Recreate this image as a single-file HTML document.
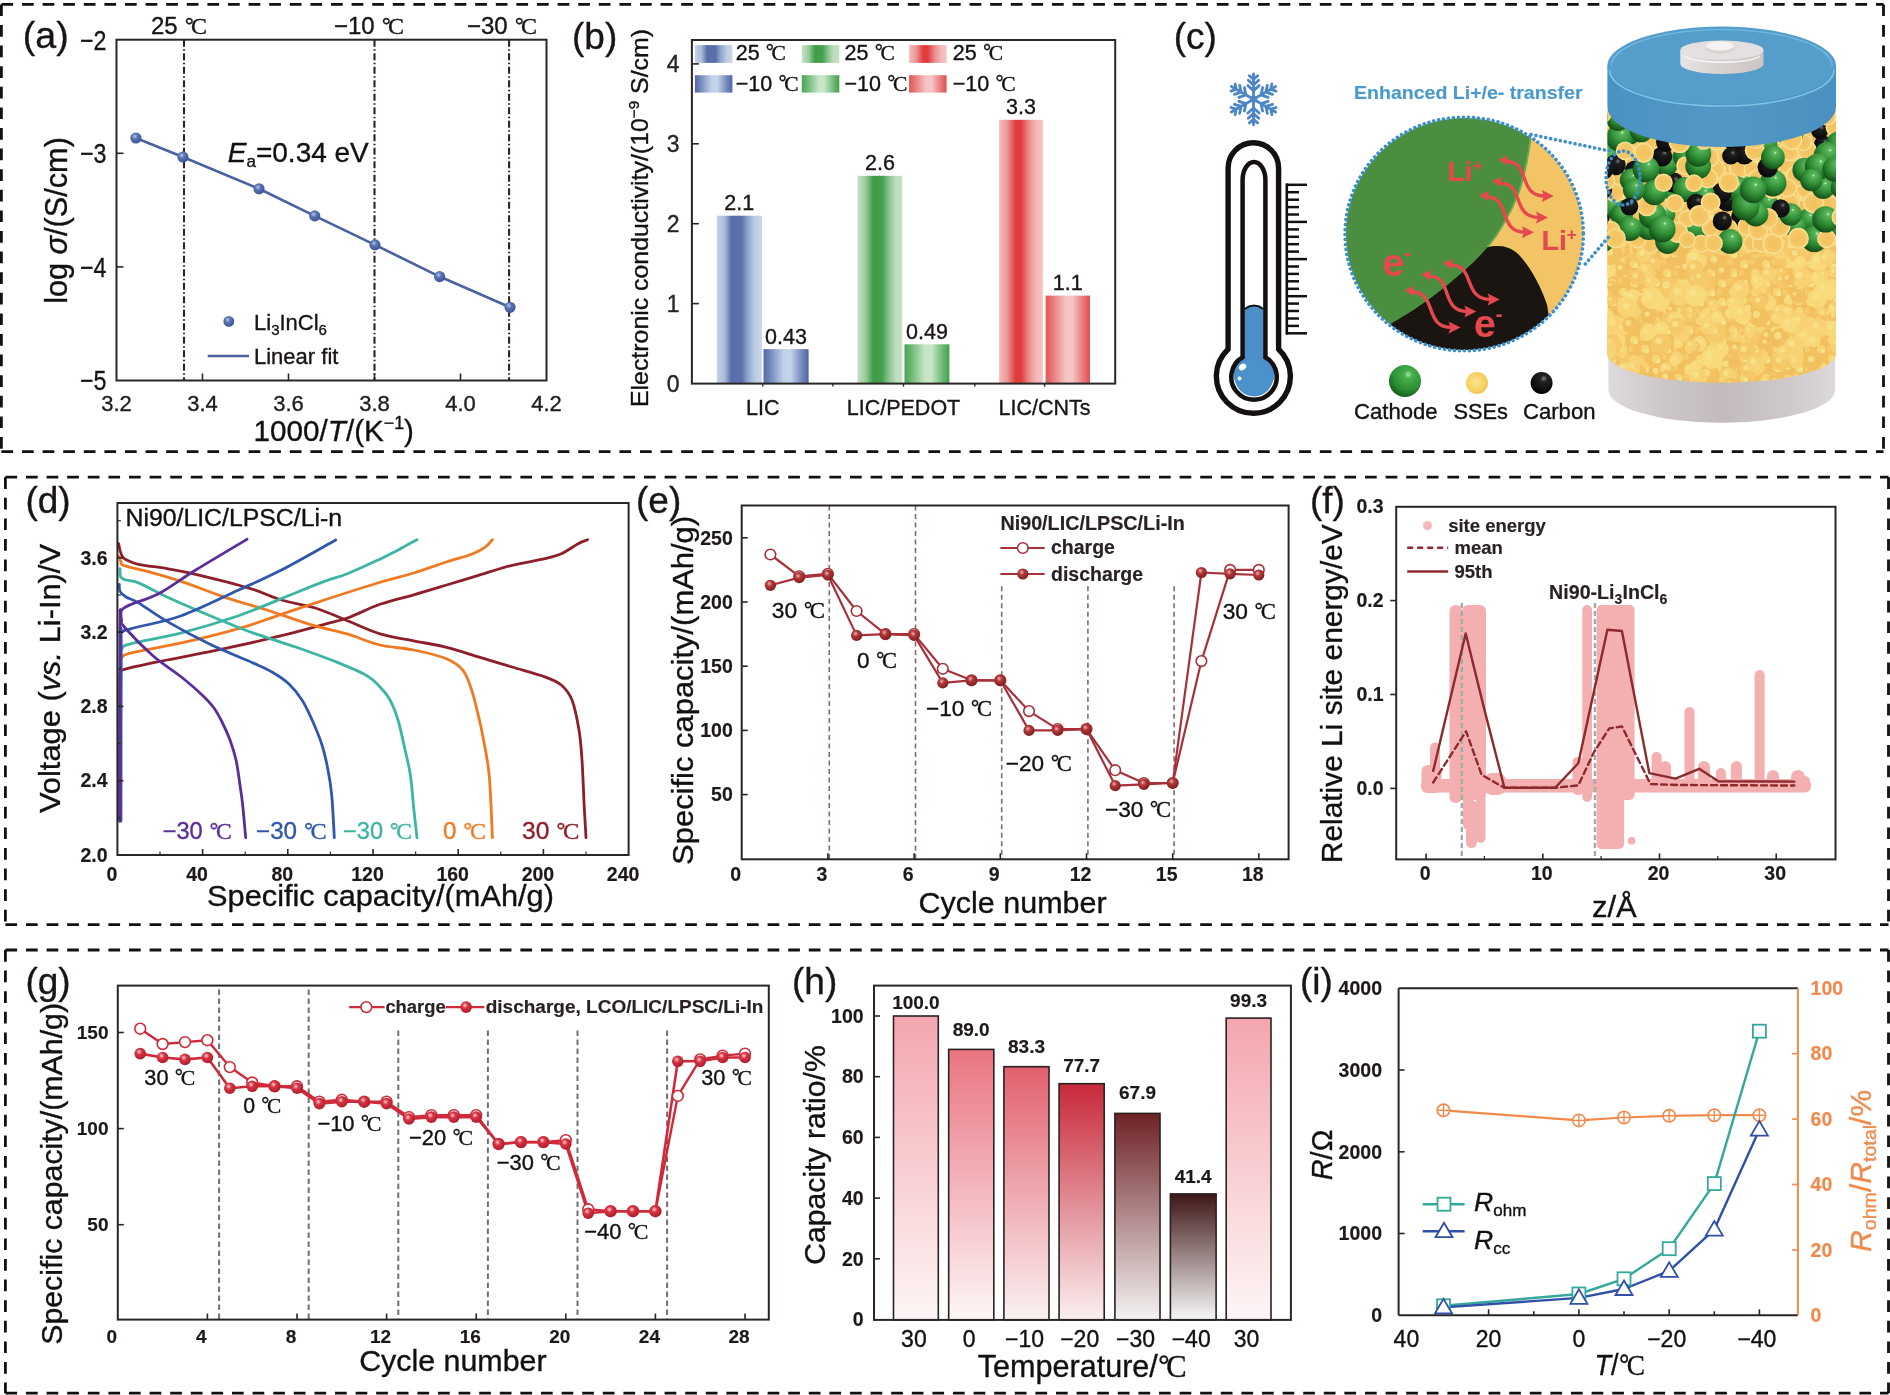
<!DOCTYPE html><html><head><meta charset="utf-8"><style>html,body{margin:0;padding:0;background:#fff;}svg{display:block;filter:blur(0.45px);}</style></head><body>
<svg width="1890" height="1395" viewBox="0 0 1890 1395">
<defs>
<radialGradient id="gBlue" cx="0.4" cy="0.35" r="0.7"><stop offset="0" stop-color="#b8c8ec"/><stop offset="0.35" stop-color="#5a74b4"/><stop offset="1" stop-color="#3a5090"/></radialGradient>
<radialGradient id="gRedE" cx="0.4" cy="0.35" r="0.7"><stop offset="0" stop-color="#f0b0b0"/><stop offset="0.35" stop-color="#b03838"/><stop offset="1" stop-color="#7a1c1c"/></radialGradient>
<radialGradient id="gRedG" cx="0.4" cy="0.35" r="0.7"><stop offset="0" stop-color="#ffd0d0"/><stop offset="0.35" stop-color="#d83444"/><stop offset="1" stop-color="#a81c28"/></radialGradient>
</defs>
<rect x="0.0" y="0.0" width="1890.0" height="1395.0" fill="#fff" stroke="none" stroke-width="1" />
<line x1="1.4" y1="4.4" x2="1883.5" y2="4.4" stroke="#111" stroke-width="2.8" stroke-dasharray="11.7 8.9"/>
<line x1="1.4" y1="451.7" x2="1883.5" y2="451.7" stroke="#111" stroke-width="2.8" stroke-dasharray="11.7 8.9"/>
<line x1="1.4" y1="4.4" x2="1.4" y2="451.7" stroke="#111" stroke-width="2.8" stroke-dasharray="11.7 8.9"/>
<line x1="1883.5" y1="4.4" x2="1883.5" y2="451.7" stroke="#111" stroke-width="2.8" stroke-dasharray="11.7 8.9"/>
<line x1="5.4" y1="477.2" x2="1888.5" y2="477.2" stroke="#111" stroke-width="2.8" stroke-dasharray="11.7 8.9"/>
<line x1="5.4" y1="924.7" x2="1888.5" y2="924.7" stroke="#111" stroke-width="2.8" stroke-dasharray="11.7 8.9"/>
<line x1="5.4" y1="477.2" x2="5.4" y2="924.7" stroke="#111" stroke-width="2.8" stroke-dasharray="11.7 8.9"/>
<line x1="1888.5" y1="477.2" x2="1888.5" y2="924.7" stroke="#111" stroke-width="2.8" stroke-dasharray="11.7 8.9"/>
<line x1="5.4" y1="950.0" x2="1888.5" y2="950.0" stroke="#111" stroke-width="2.8" stroke-dasharray="11.7 8.9"/>
<line x1="5.4" y1="1393.2" x2="1888.5" y2="1393.2" stroke="#111" stroke-width="2.8" stroke-dasharray="11.7 8.9"/>
<line x1="5.4" y1="950.0" x2="5.4" y2="1393.2" stroke="#111" stroke-width="2.8" stroke-dasharray="11.7 8.9"/>
<line x1="1888.5" y1="950.0" x2="1888.5" y2="1393.2" stroke="#111" stroke-width="2.8" stroke-dasharray="11.7 8.9"/>
<line x1="184.0" y1="39.7" x2="184.0" y2="380.5" stroke="#2e2222" stroke-width="2.1" stroke-dasharray="7 2.5 1.5 2.5"/>
<line x1="374.5" y1="39.7" x2="374.5" y2="380.5" stroke="#2e2222" stroke-width="2.1" stroke-dasharray="7 2.5 1.5 2.5"/>
<line x1="509.1" y1="39.7" x2="509.1" y2="380.5" stroke="#2e2222" stroke-width="2.1" stroke-dasharray="7 2.5 1.5 2.5"/>
<rect x="116.5" y="39.7" width="430.0" height="340.8" fill="none" stroke="#2b2626" stroke-width="2" />
<line x1="202.5" y1="380.5" x2="202.5" y2="373.5" stroke="#2b2626" stroke-width="1.6" />
<line x1="288.5" y1="380.5" x2="288.5" y2="373.5" stroke="#2b2626" stroke-width="1.6" />
<line x1="374.5" y1="380.5" x2="374.5" y2="373.5" stroke="#2b2626" stroke-width="1.6" />
<line x1="460.5" y1="380.5" x2="460.5" y2="373.5" stroke="#2b2626" stroke-width="1.6" />
<line x1="116.5" y1="153.3" x2="123.5" y2="153.3" stroke="#2b2626" stroke-width="1.6" />
<line x1="116.5" y1="266.9" x2="123.5" y2="266.9" stroke="#2b2626" stroke-width="1.6" />
<text x="116.5" y="410.5" font-size="22" font-family='"Liberation Sans", sans-serif' fill="#221c1c" stroke="#221c1c" stroke-width="0.35" text-anchor="middle" >3.2</text>
<text x="202.5" y="410.5" font-size="22" font-family='"Liberation Sans", sans-serif' fill="#221c1c" stroke="#221c1c" stroke-width="0.35" text-anchor="middle" >3.4</text>
<text x="288.5" y="410.5" font-size="22" font-family='"Liberation Sans", sans-serif' fill="#221c1c" stroke="#221c1c" stroke-width="0.35" text-anchor="middle" >3.6</text>
<text x="374.5" y="410.5" font-size="22" font-family='"Liberation Sans", sans-serif' fill="#221c1c" stroke="#221c1c" stroke-width="0.35" text-anchor="middle" >3.8</text>
<text x="460.5" y="410.5" font-size="22" font-family='"Liberation Sans", sans-serif' fill="#221c1c" stroke="#221c1c" stroke-width="0.35" text-anchor="middle" >4.0</text>
<text x="546.5" y="410.5" font-size="22" font-family='"Liberation Sans", sans-serif' fill="#221c1c" stroke="#221c1c" stroke-width="0.35" text-anchor="middle" >4.2</text>
<text x="106.5" y="49.5" font-size="28" font-family='"Liberation Sans", sans-serif' fill="#1a1414" stroke="#1a1414" stroke-width="0.35" text-anchor="end" textLength="26.5" lengthAdjust="spacingAndGlyphs" >−2</text>
<text x="106.5" y="163.1" font-size="28" font-family='"Liberation Sans", sans-serif' fill="#1a1414" stroke="#1a1414" stroke-width="0.35" text-anchor="end" textLength="26.5" lengthAdjust="spacingAndGlyphs" >−3</text>
<text x="106.5" y="276.7" font-size="28" font-family='"Liberation Sans", sans-serif' fill="#1a1414" stroke="#1a1414" stroke-width="0.35" text-anchor="end" textLength="26.5" lengthAdjust="spacingAndGlyphs" >−4</text>
<text x="106.5" y="390.3" font-size="28" font-family='"Liberation Sans", sans-serif' fill="#1a1414" stroke="#1a1414" stroke-width="0.35" text-anchor="end" textLength="26.5" lengthAdjust="spacingAndGlyphs" >−5</text>
<polyline points="135.9,138.0 182.9,157.0 259.0,188.8 314.7,215.9 375.0,244.9 439.6,276.6 510.0,307.3" fill="none" stroke="#4a62a0" stroke-width="2.7" stroke-linejoin="round" stroke-linecap="round" />
<circle cx="135.9" cy="138.0" r="5.6" fill="url(#gBlue)" stroke="none" stroke-width="1" />
<circle cx="182.9" cy="157.0" r="5.6" fill="url(#gBlue)" stroke="none" stroke-width="1" />
<circle cx="259.0" cy="188.8" r="5.6" fill="url(#gBlue)" stroke="none" stroke-width="1" />
<circle cx="314.7" cy="215.9" r="5.6" fill="url(#gBlue)" stroke="none" stroke-width="1" />
<circle cx="375.0" cy="244.9" r="5.6" fill="url(#gBlue)" stroke="none" stroke-width="1" />
<circle cx="439.6" cy="276.6" r="5.6" fill="url(#gBlue)" stroke="none" stroke-width="1" />
<circle cx="510.0" cy="307.3" r="5.6" fill="url(#gBlue)" stroke="none" stroke-width="1" />
<circle cx="228.8" cy="321.4" r="5.4" fill="url(#gBlue)" stroke="none" stroke-width="1" />
<text x="254.0" y="330.0" font-size="22" font-family='"Liberation Sans", sans-serif' fill="#1a1414" stroke="#1a1414" stroke-width="0.35" >Li<tspan font-size="15" dy="5">3</tspan><tspan dy="-5">InCl</tspan><tspan font-size="15" dy="5">6</tspan></text>
<line x1="207.7" y1="356.0" x2="249.0" y2="356.0" stroke="#4d64a0" stroke-width="2.6" />
<text x="254.0" y="363.5" font-size="22" font-family='"Liberation Sans", sans-serif' fill="#1a1414" stroke="#1a1414" stroke-width="0.35" >Linear fit</text>
<text x="227.8" y="162.4" font-size="28" font-family='"Liberation Sans", sans-serif' fill="#111" stroke="#111" stroke-width="0.35" textLength="141.0" lengthAdjust="spacingAndGlyphs" ><tspan font-style="italic">E</tspan><tspan font-size="17" dy="5">a</tspan><tspan dy="-5">=0.34 eV</tspan></text>
<text x="151.0" y="34.0" font-size="24" font-family='"Liberation Sans", sans-serif' fill="#1a1414" stroke="#1a1414" stroke-width="0.35" >25 <tspan font-weight="normal">°</tspan><tspan font-family='"Liberation Serif", serif' font-weight="normal" dx="-2.9">C</tspan></text>
<text x="334.0" y="34.0" font-size="24" font-family='"Liberation Sans", sans-serif' fill="#1a1414" stroke="#1a1414" stroke-width="0.35" >−10 <tspan font-weight="normal">°</tspan><tspan font-family='"Liberation Serif", serif' font-weight="normal" dx="-2.9">C</tspan></text>
<text x="467.0" y="34.0" font-size="24" font-family='"Liberation Sans", sans-serif' fill="#1a1414" stroke="#1a1414" stroke-width="0.35" >−30 <tspan font-weight="normal">°</tspan><tspan font-family='"Liberation Serif", serif' font-weight="normal" dx="-2.9">C</tspan></text>
<text x="67.0" y="220.5" font-size="30.5" font-family='"Liberation Sans", sans-serif' fill="#111" stroke="#111" stroke-width="0.35" text-anchor="middle" textLength="166.7" lengthAdjust="spacingAndGlyphs" transform="rotate(-90 67.0 220.5)" >log <tspan font-style="italic">σ</tspan>/(S/cm)</text>
<text x="333.8" y="440.6" font-size="30" font-family='"Liberation Sans", sans-serif' fill="#111" stroke="#111" stroke-width="0.35" text-anchor="middle" textLength="160.4" lengthAdjust="spacingAndGlyphs" >1000/<tspan font-style="italic">T</tspan>/(K<tspan font-size="18" dy="-12">−1</tspan><tspan dy="12">)</tspan></text>
<text x="22.8" y="47.8" font-size="37.5" font-family='"Liberation Sans", sans-serif' fill="#1a1414" stroke="#1a1414" stroke-width="0.35" >(a)</text>
<defs>
<linearGradient id="bB1" x1="0" y1="0" x2="1" y2="0"><stop offset="0" stop-color="#c6d4e8"/><stop offset="0.18" stop-color="#a8bad8"/><stop offset="0.32" stop-color="#5a6eaa"/><stop offset="0.55" stop-color="#5c70a8"/><stop offset="0.68" stop-color="#8ea4cc"/><stop offset="0.85" stop-color="#bccce2"/><stop offset="1" stop-color="#c8d6ea"/></linearGradient>
<linearGradient id="bB2" x1="0" y1="0" x2="1" y2="0"><stop offset="0" stop-color="#5468a4"/><stop offset="0.15" stop-color="#7488bc"/><stop offset="0.45" stop-color="#c2d2e8"/><stop offset="0.6" stop-color="#c4d4ea"/><stop offset="0.85" stop-color="#7488bc"/><stop offset="1" stop-color="#5066a2"/></linearGradient>
<linearGradient id="bG1" x1="0" y1="0" x2="1" y2="0"><stop offset="0" stop-color="#c4e0c4"/><stop offset="0.18" stop-color="#9ccc9c"/><stop offset="0.35" stop-color="#3f9c48"/><stop offset="0.55" stop-color="#44a04c"/><stop offset="0.7" stop-color="#88c490"/><stop offset="0.85" stop-color="#bcdcbc"/><stop offset="1" stop-color="#c4e2c4"/></linearGradient>
<linearGradient id="bG2" x1="0" y1="0" x2="1" y2="0"><stop offset="0" stop-color="#48a450"/><stop offset="0.15" stop-color="#6cb874"/><stop offset="0.45" stop-color="#c6e4c6"/><stop offset="0.6" stop-color="#c8e6c8"/><stop offset="0.85" stop-color="#6cb874"/><stop offset="1" stop-color="#42a04a"/></linearGradient>
<linearGradient id="bR1" x1="0" y1="0" x2="1" y2="0"><stop offset="0" stop-color="#f4bcbc"/><stop offset="0.18" stop-color="#ee9898"/><stop offset="0.38" stop-color="#e03c3c"/><stop offset="0.5" stop-color="#e23c3c"/><stop offset="0.68" stop-color="#ec8c8c"/><stop offset="0.85" stop-color="#f4b8b8"/><stop offset="1" stop-color="#f6c4c4"/></linearGradient>
<linearGradient id="bR2" x1="0" y1="0" x2="1" y2="0"><stop offset="0" stop-color="#e05656"/><stop offset="0.15" stop-color="#e87878"/><stop offset="0.45" stop-color="#f6c4c4"/><stop offset="0.6" stop-color="#f6c6c6"/><stop offset="0.85" stop-color="#e87878"/><stop offset="1" stop-color="#de5050"/></linearGradient>
</defs>
<rect x="716.8" y="215.7" width="45.1" height="167.9" fill="url(#bB1)" stroke="none" stroke-width="1" />
<text x="739.3" y="210.2" font-size="21.5" font-family='"Liberation Sans", sans-serif' fill="#1a1414" stroke="#1a1414" stroke-width="0.35" text-anchor="middle" >2.1</text>
<rect x="763.5" y="349.1" width="45.1" height="34.5" fill="url(#bB2)" stroke="none" stroke-width="1" />
<text x="786.0" y="343.6" font-size="21.5" font-family='"Liberation Sans", sans-serif' fill="#1a1414" stroke="#1a1414" stroke-width="0.35" text-anchor="middle" >0.43</text>
<rect x="857.5" y="175.8" width="44.8" height="207.8" fill="url(#bG1)" stroke="none" stroke-width="1" />
<text x="879.9" y="170.3" font-size="21.5" font-family='"Liberation Sans", sans-serif' fill="#1a1414" stroke="#1a1414" stroke-width="0.35" text-anchor="middle" >2.6</text>
<rect x="904.5" y="344.3" width="44.9" height="39.3" fill="url(#bG2)" stroke="none" stroke-width="1" />
<text x="927.0" y="338.8" font-size="21.5" font-family='"Liberation Sans", sans-serif' fill="#1a1414" stroke="#1a1414" stroke-width="0.35" text-anchor="middle" >0.49</text>
<rect x="999.1" y="119.8" width="43.8" height="263.8" fill="url(#bR1)" stroke="none" stroke-width="1" />
<text x="1021.0" y="114.3" font-size="21.5" font-family='"Liberation Sans", sans-serif' fill="#1a1414" stroke="#1a1414" stroke-width="0.35" text-anchor="middle" >3.3</text>
<rect x="1045.6" y="295.6" width="44.4" height="88.0" fill="url(#bR2)" stroke="none" stroke-width="1" />
<text x="1067.8" y="290.1" font-size="21.5" font-family='"Liberation Sans", sans-serif' fill="#1a1414" stroke="#1a1414" stroke-width="0.35" text-anchor="middle" >1.1</text>
<rect x="691.9" y="40.0" width="423.3" height="343.6" fill="none" stroke="#2b2626" stroke-width="2" />
<line x1="691.9" y1="303.6" x2="698.9" y2="303.6" stroke="#2b2626" stroke-width="1.6" />
<line x1="691.9" y1="223.7" x2="698.9" y2="223.7" stroke="#2b2626" stroke-width="1.6" />
<line x1="691.9" y1="143.8" x2="698.9" y2="143.8" stroke="#2b2626" stroke-width="1.6" />
<line x1="691.9" y1="63.9" x2="698.9" y2="63.9" stroke="#2b2626" stroke-width="1.6" />
<line x1="762.7" y1="383.6" x2="762.7" y2="386.6" stroke="#2b2626" stroke-width="1.4" />
<line x1="832.9" y1="383.6" x2="832.9" y2="386.6" stroke="#2b2626" stroke-width="1.4" />
<line x1="903.5" y1="383.6" x2="903.5" y2="386.6" stroke="#2b2626" stroke-width="1.4" />
<line x1="974.8" y1="383.6" x2="974.8" y2="386.6" stroke="#2b2626" stroke-width="1.4" />
<line x1="1044.6" y1="383.6" x2="1044.6" y2="386.6" stroke="#2b2626" stroke-width="1.4" />
<text x="679.5" y="391.8" font-size="23" font-family='"Liberation Sans", sans-serif' fill="#2a2222" stroke="#2a2222" stroke-width="0.35" text-anchor="end" >0</text>
<text x="679.5" y="311.9" font-size="23" font-family='"Liberation Sans", sans-serif' fill="#2a2222" stroke="#2a2222" stroke-width="0.35" text-anchor="end" >1</text>
<text x="679.5" y="232.0" font-size="23" font-family='"Liberation Sans", sans-serif' fill="#2a2222" stroke="#2a2222" stroke-width="0.35" text-anchor="end" >2</text>
<text x="679.5" y="152.1" font-size="23" font-family='"Liberation Sans", sans-serif' fill="#2a2222" stroke="#2a2222" stroke-width="0.35" text-anchor="end" >3</text>
<text x="679.5" y="72.2" font-size="23" font-family='"Liberation Sans", sans-serif' fill="#2a2222" stroke="#2a2222" stroke-width="0.35" text-anchor="end" >4</text>
<rect x="694.9" y="45.1" width="37.5" height="17.8" fill="url(#bB1)" stroke="none" stroke-width="1" />
<rect x="694.9" y="75.2" width="37.5" height="17.4" fill="url(#bB2)" stroke="none" stroke-width="1" />
<text x="735.7" y="60.3" font-size="21.5" font-family='"Liberation Sans", sans-serif' fill="#111" stroke="#111" stroke-width="0.35" >25 <tspan font-weight="normal">°</tspan><tspan font-family='"Liberation Serif", serif' font-weight="normal" dx="-2.6">C</tspan></text>
<text x="735.7" y="90.5" font-size="21.5" font-family='"Liberation Sans", sans-serif' fill="#111" stroke="#111" stroke-width="0.35" >−10 <tspan font-weight="normal">°</tspan><tspan font-family='"Liberation Serif", serif' font-weight="normal" dx="-2.6">C</tspan></text>
<rect x="801.8" y="45.1" width="37.5" height="17.8" fill="url(#bG1)" stroke="none" stroke-width="1" />
<rect x="801.8" y="75.2" width="37.5" height="17.4" fill="url(#bG2)" stroke="none" stroke-width="1" />
<text x="844.5" y="60.3" font-size="21.5" font-family='"Liberation Sans", sans-serif' fill="#111" stroke="#111" stroke-width="0.35" >25 <tspan font-weight="normal">°</tspan><tspan font-family='"Liberation Serif", serif' font-weight="normal" dx="-2.6">C</tspan></text>
<text x="844.5" y="90.5" font-size="21.5" font-family='"Liberation Sans", sans-serif' fill="#111" stroke="#111" stroke-width="0.35" >−10 <tspan font-weight="normal">°</tspan><tspan font-family='"Liberation Serif", serif' font-weight="normal" dx="-2.6">C</tspan></text>
<rect x="909.1" y="45.1" width="37.5" height="17.8" fill="url(#bR1)" stroke="none" stroke-width="1" />
<rect x="909.1" y="75.2" width="37.5" height="17.4" fill="url(#bR2)" stroke="none" stroke-width="1" />
<text x="952.8" y="60.3" font-size="21.5" font-family='"Liberation Sans", sans-serif' fill="#111" stroke="#111" stroke-width="0.35" >25 <tspan font-weight="normal">°</tspan><tspan font-family='"Liberation Serif", serif' font-weight="normal" dx="-2.6">C</tspan></text>
<text x="952.8" y="90.5" font-size="21.5" font-family='"Liberation Sans", sans-serif' fill="#111" stroke="#111" stroke-width="0.35" >−10 <tspan font-weight="normal">°</tspan><tspan font-family='"Liberation Serif", serif' font-weight="normal" dx="-2.6">C</tspan></text>
<text x="762.7" y="414.5" font-size="21.5" font-family='"Liberation Sans", sans-serif' fill="#1a1414" stroke="#1a1414" stroke-width="0.35" text-anchor="middle" >LIC</text>
<text x="903.5" y="414.5" font-size="21.5" font-family='"Liberation Sans", sans-serif' fill="#1a1414" stroke="#1a1414" stroke-width="0.35" text-anchor="middle" >LIC/PEDOT</text>
<text x="1044.6" y="414.5" font-size="21.5" font-family='"Liberation Sans", sans-serif' fill="#1a1414" stroke="#1a1414" stroke-width="0.35" text-anchor="middle" >LIC/CNTs</text>
<text x="647.5" y="218.0" font-size="24.5" font-family='"Liberation Sans", sans-serif' fill="#111" stroke="#111" stroke-width="0.35" text-anchor="middle" textLength="378.0" lengthAdjust="spacingAndGlyphs" transform="rotate(-90 647.5 218.0)" >Electronic conductivity/(10<tspan font-size="15" dy="-9">−9</tspan><tspan dy="9"> S/cm)</tspan></text>
<text x="572.0" y="48.6" font-size="37" font-family='"Liberation Sans", sans-serif' fill="#1a1414" stroke="#1a1414" stroke-width="0.35" >(b)</text>
<text x="1173.7" y="48.6" font-size="37" font-family='"Liberation Sans", sans-serif' fill="#1a1414" stroke="#1a1414" stroke-width="0.35" >(c)</text>
<path d="M1253.5,99.3 L1253.5,73.8 M1253.5,90.6 L1247.9,85.6 M1253.5,90.6 L1259.1,85.6 M1253.5,85.0 L1248.3,80.3 M1253.5,85.0 L1258.7,80.3 M1253.5,79.4 L1249.4,75.7 M1253.5,79.4 L1257.6,75.7 M1253.5,99.3 L1275.6,86.5 M1261.0,95.0 L1262.6,87.6 M1261.0,95.0 L1268.1,97.3 M1265.9,92.2 L1267.3,85.3 M1265.9,92.2 L1272.5,94.3 M1270.7,89.4 L1271.9,84.0 M1270.7,89.4 L1276.0,91.1 M1253.5,99.3 L1275.6,112.0 M1261.0,103.6 L1268.1,101.3 M1261.0,103.6 L1262.6,111.0 M1265.9,106.4 L1272.5,104.3 M1265.9,106.4 L1267.3,113.3 M1270.7,109.2 L1276.0,107.5 M1270.7,109.2 L1271.9,114.6 M1253.5,99.3 L1253.5,124.8 M1253.5,108.0 L1259.1,113.0 M1253.5,108.0 L1247.9,113.0 M1253.5,113.6 L1258.7,118.3 M1253.5,113.6 L1248.3,118.3 M1253.5,119.2 L1257.6,122.9 M1253.5,119.2 L1249.4,122.9 M1253.5,99.3 L1231.4,112.0 M1246.0,103.6 L1244.4,111.0 M1246.0,103.6 L1238.9,101.3 M1241.1,106.4 L1239.7,113.3 M1241.1,106.4 L1234.5,104.3 M1236.3,109.2 L1235.1,114.6 M1236.3,109.2 L1231.0,107.5 M1253.5,99.3 L1231.4,86.5 M1246.0,95.0 L1238.9,97.3 M1246.0,95.0 L1244.4,87.6 M1241.1,92.2 L1234.5,94.3 M1241.1,92.2 L1239.7,85.3 M1236.3,89.4 L1231.0,91.1 M1236.3,89.4 L1235.1,84.0" stroke="#4c86c4" stroke-width="2.8" stroke-linecap="round" fill="none"/>
<circle cx="1253.5" cy="99.3" r="3.5" fill="#4c86c4"/>
<path d="M1228.1,349.2 L1228.1,168 A25.25,25.25 0 0 1 1278.6,168 L1278.6,349.2 A37,37 0 1 1 1228.1,349.2 Z" fill="#fff" stroke="#141010" stroke-width="5.4"/>
<path d="M1244.5,356 L1244.5,312 Q1244.5,305 1251,305 L1257,305 Q1263.5,305 1263.5,312 L1263.5,356 A20.5,20.5 0 1 1 1244.5,356 Z" fill="#4a8fc8"/>
<circle cx="1254" cy="377.5" r="19" fill="#4b92cc"/>
<path d="M1242.6,357.3 L1242.6,180 A11.4,18 0 0 1 1265.4,180 L1265.4,357.3 A22.75,22.75 0 1 1 1242.6,357.3 Z" fill="none" stroke="#141010" stroke-width="4.5"/>
<path d="M1244.8,309 Q1254,302 1263.2,309" stroke="#141010" stroke-width="2" fill="none"/>
<ellipse cx="1242.5" cy="367" rx="4" ry="3" fill="#ffffff" transform="rotate(-35 1242.5 367)"/>
<circle cx="1239.5" cy="378.5" r="2" fill="#ffffff"/>
<line x1="1286.8" y1="183.5" x2="1286.8" y2="334.6" stroke="#141010" stroke-width="2.6" />
<line x1="1286.0" y1="184.8" x2="1307.0" y2="184.8" stroke="#141010" stroke-width="2.5" />
<line x1="1286.0" y1="192.2" x2="1299.0" y2="192.2" stroke="#141010" stroke-width="2.5" />
<line x1="1286.0" y1="199.7" x2="1299.0" y2="199.7" stroke="#141010" stroke-width="2.5" />
<line x1="1286.0" y1="207.1" x2="1299.0" y2="207.1" stroke="#141010" stroke-width="2.5" />
<line x1="1286.0" y1="214.5" x2="1299.0" y2="214.5" stroke="#141010" stroke-width="2.5" />
<line x1="1286.0" y1="221.9" x2="1307.0" y2="221.9" stroke="#141010" stroke-width="2.5" />
<line x1="1286.0" y1="229.4" x2="1299.0" y2="229.4" stroke="#141010" stroke-width="2.5" />
<line x1="1286.0" y1="236.8" x2="1299.0" y2="236.8" stroke="#141010" stroke-width="2.5" />
<line x1="1286.0" y1="244.2" x2="1299.0" y2="244.2" stroke="#141010" stroke-width="2.5" />
<line x1="1286.0" y1="251.6" x2="1299.0" y2="251.6" stroke="#141010" stroke-width="2.5" />
<line x1="1286.0" y1="259.1" x2="1307.0" y2="259.1" stroke="#141010" stroke-width="2.5" />
<line x1="1286.0" y1="266.5" x2="1299.0" y2="266.5" stroke="#141010" stroke-width="2.5" />
<line x1="1286.0" y1="273.9" x2="1299.0" y2="273.9" stroke="#141010" stroke-width="2.5" />
<line x1="1286.0" y1="281.3" x2="1299.0" y2="281.3" stroke="#141010" stroke-width="2.5" />
<line x1="1286.0" y1="288.8" x2="1299.0" y2="288.8" stroke="#141010" stroke-width="2.5" />
<line x1="1286.0" y1="296.2" x2="1307.0" y2="296.2" stroke="#141010" stroke-width="2.5" />
<line x1="1286.0" y1="303.6" x2="1299.0" y2="303.6" stroke="#141010" stroke-width="2.5" />
<line x1="1286.0" y1="311.0" x2="1299.0" y2="311.0" stroke="#141010" stroke-width="2.5" />
<line x1="1286.0" y1="318.5" x2="1299.0" y2="318.5" stroke="#141010" stroke-width="2.5" />
<line x1="1286.0" y1="325.9" x2="1299.0" y2="325.9" stroke="#141010" stroke-width="2.5" />
<line x1="1286.0" y1="333.3" x2="1307.0" y2="333.3" stroke="#141010" stroke-width="2.5" />
<defs>
<radialGradient id="sG" cx="0.6" cy="0.3" r="0.8"><stop offset="0" stop-color="#d8ffe0"/><stop offset="0.08" stop-color="#5cb85c"/><stop offset="0.5" stop-color="#2e8c34"/><stop offset="1" stop-color="#0c3a10"/></radialGradient>
<radialGradient id="sK" cx="0.62" cy="0.32" r="0.75"><stop offset="0" stop-color="#777"/><stop offset="0.18" stop-color="#1e1e1e"/><stop offset="1" stop-color="#050505"/></radialGradient>
<radialGradient id="sY" cx="0.5" cy="0.5" r="0.5"><stop offset="0" stop-color="#f3c060"/><stop offset="0.75" stop-color="#f5c866"/><stop offset="0.92" stop-color="#f8e29a"/><stop offset="1" stop-color="#f6d47a"/></radialGradient>
<radialGradient id="sYL" cx="0.5" cy="0.5" r="0.55"><stop offset="0" stop-color="#fae184"/><stop offset="1" stop-color="#f6cf6a"/></radialGradient>
<linearGradient id="capSide" x1="0" y1="0" x2="1" y2="0"><stop offset="0" stop-color="#4a92c2"/><stop offset="0.5" stop-color="#5299c7"/><stop offset="1" stop-color="#4a90c0"/></linearGradient>
<linearGradient id="baseG" x1="0" y1="0" x2="1" y2="0"><stop offset="0" stop-color="#dedbdc"/><stop offset="0.25" stop-color="#cdc6c7"/><stop offset="0.5" stop-color="#c3bbbb"/><stop offset="0.8" stop-color="#cfc9ca"/><stop offset="1" stop-color="#dcd9da"/></linearGradient>
<linearGradient id="termSide" x1="0" y1="0" x2="1" y2="0"><stop offset="0" stop-color="#e8e4e4"/><stop offset="0.5" stop-color="#d6d0ce"/><stop offset="1" stop-color="#ccc5c4"/></linearGradient>
<pattern id="yPat" x="1607" y="240" width="22" height="19" patternUnits="userSpaceOnUse">
<rect width="22" height="19" fill="#f3c060"/>
<circle cx="5" cy="5" r="4.2" fill="#f7d676"/><circle cx="16" cy="14" r="4.2" fill="#f7d676"/>
<circle cx="7" cy="7" r="2.2" fill="#f4e58a"/><circle cx="18" cy="16" r="2.2" fill="#f4e58a"/>
<circle cx="13" cy="3" r="3" fill="#f6cb6a"/><circle cx="2" cy="14" r="3" fill="#f6cb6a"/>
</pattern>
</defs>
<path d="M1608.4,330 L1608.4,390 A113.29999999999995,32.7 0 0 0 1835.0,390 L1835.0,330 Z" fill="url(#baseG)"/>
<defs><clipPath id="clipB"><path d="M1607.4,110 L1607.4,354 A114.29999999999995,28.5 0 0 0 1836.0,354 L1836.0,110 Z"/></clipPath></defs>
<g clip-path="url(#clipB)">
<rect x="1607.4" y="110" width="228.5999999999999" height="280" fill="url(#yPat)"/>
<circle cx="1679.7" cy="257.6" r="8.9" fill="#f5c868" opacity="0.9"/>
<circle cx="1677.4" cy="255.4" r="3.1" fill="#f6e48c" opacity="0.8"/>
<circle cx="1798.4" cy="249.1" r="8.5" fill="#f7d374" opacity="0.9"/>
<circle cx="1796.2" cy="247.0" r="3.0" fill="#f6e48c" opacity="0.8"/>
<circle cx="1611.3" cy="300.0" r="5.4" fill="#f5c868" opacity="0.9"/>
<circle cx="1610.0" cy="298.7" r="1.9" fill="#f6e48c" opacity="0.8"/>
<circle cx="1733.9" cy="243.9" r="8.4" fill="#f7d374" opacity="0.9"/>
<circle cx="1731.8" cy="241.8" r="2.9" fill="#f6e48c" opacity="0.8"/>
<circle cx="1752.9" cy="322.4" r="5.4" fill="#f8da7c" opacity="0.9"/>
<circle cx="1751.5" cy="321.1" r="1.9" fill="#f6e48c" opacity="0.8"/>
<circle cx="1614.2" cy="268.2" r="8.3" fill="#f7d374" opacity="0.9"/>
<circle cx="1612.1" cy="266.1" r="2.9" fill="#f6e48c" opacity="0.8"/>
<circle cx="1671.5" cy="256.6" r="5.7" fill="#f2bf5e" opacity="0.9"/>
<circle cx="1670.1" cy="255.2" r="2.0" fill="#f6e48c" opacity="0.8"/>
<circle cx="1736.1" cy="337.3" r="5.6" fill="#f7d374" opacity="0.9"/>
<circle cx="1734.7" cy="335.9" r="2.0" fill="#f6e48c" opacity="0.8"/>
<circle cx="1691.3" cy="317.2" r="5.4" fill="#f5c868" opacity="0.9"/>
<circle cx="1689.9" cy="315.8" r="1.9" fill="#f6e48c" opacity="0.8"/>
<circle cx="1750.1" cy="309.5" r="8.2" fill="#f2bf5e" opacity="0.9"/>
<circle cx="1748.0" cy="307.4" r="2.9" fill="#f6e48c" opacity="0.8"/>
<circle cx="1713.5" cy="373.5" r="7.2" fill="#f7d374" opacity="0.9"/>
<circle cx="1711.7" cy="371.7" r="2.5" fill="#f6e48c" opacity="0.8"/>
<circle cx="1791.9" cy="339.8" r="6.5" fill="#f2bf5e" opacity="0.9"/>
<circle cx="1790.3" cy="338.2" r="2.3" fill="#f6e48c" opacity="0.8"/>
<circle cx="1727.7" cy="366.3" r="9.4" fill="#f2bf5e" opacity="0.9"/>
<circle cx="1725.4" cy="363.9" r="3.3" fill="#f6e48c" opacity="0.8"/>
<circle cx="1747.7" cy="246.0" r="8.1" fill="#f7d374" opacity="0.9"/>
<circle cx="1745.7" cy="244.0" r="2.8" fill="#f6e48c" opacity="0.8"/>
<circle cx="1783.1" cy="257.8" r="7.9" fill="#f5c868" opacity="0.9"/>
<circle cx="1781.1" cy="255.8" r="2.8" fill="#f6e48c" opacity="0.8"/>
<circle cx="1831.9" cy="246.6" r="8.3" fill="#f2bf5e" opacity="0.9"/>
<circle cx="1829.9" cy="244.6" r="2.9" fill="#f6e48c" opacity="0.8"/>
<circle cx="1683.6" cy="287.5" r="8.0" fill="#f8da7c" opacity="0.9"/>
<circle cx="1681.6" cy="285.5" r="2.8" fill="#f6e48c" opacity="0.8"/>
<circle cx="1618.8" cy="249.0" r="6.6" fill="#f5c868" opacity="0.9"/>
<circle cx="1617.2" cy="247.4" r="2.3" fill="#f6e48c" opacity="0.8"/>
<circle cx="1616.9" cy="340.2" r="8.9" fill="#f8da7c" opacity="0.9"/>
<circle cx="1614.7" cy="338.0" r="3.1" fill="#f6e48c" opacity="0.8"/>
<circle cx="1670.3" cy="292.9" r="9.0" fill="#f5c868" opacity="0.9"/>
<circle cx="1668.1" cy="290.6" r="3.2" fill="#f6e48c" opacity="0.8"/>
<circle cx="1826.8" cy="288.3" r="8.7" fill="#f8da7c" opacity="0.9"/>
<circle cx="1824.7" cy="286.2" r="3.0" fill="#f6e48c" opacity="0.8"/>
<circle cx="1616.5" cy="350.2" r="5.8" fill="#f7d374" opacity="0.9"/>
<circle cx="1615.0" cy="348.8" r="2.0" fill="#f6e48c" opacity="0.8"/>
<circle cx="1697.3" cy="372.5" r="8.0" fill="#f7d374" opacity="0.9"/>
<circle cx="1695.3" cy="370.5" r="2.8" fill="#f6e48c" opacity="0.8"/>
<circle cx="1709.6" cy="317.4" r="10.3" fill="#f8da7c" opacity="0.9"/>
<circle cx="1707.0" cy="314.8" r="3.6" fill="#f6e48c" opacity="0.8"/>
<circle cx="1808.5" cy="276.8" r="7.5" fill="#f2bf5e" opacity="0.9"/>
<circle cx="1806.7" cy="274.9" r="2.6" fill="#f6e48c" opacity="0.8"/>
<circle cx="1765.3" cy="292.1" r="6.4" fill="#f5c868" opacity="0.9"/>
<circle cx="1763.7" cy="290.5" r="2.2" fill="#f6e48c" opacity="0.8"/>
<circle cx="1644.4" cy="269.8" r="6.4" fill="#f8da7c" opacity="0.9"/>
<circle cx="1642.8" cy="268.2" r="2.2" fill="#f6e48c" opacity="0.8"/>
<circle cx="1800.7" cy="262.4" r="6.7" fill="#f7d374" opacity="0.9"/>
<circle cx="1799.0" cy="260.7" r="2.3" fill="#f6e48c" opacity="0.8"/>
<circle cx="1702.4" cy="290.4" r="8.4" fill="#f7d374" opacity="0.9"/>
<circle cx="1700.3" cy="288.3" r="2.9" fill="#f6e48c" opacity="0.8"/>
<circle cx="1767.2" cy="312.3" r="8.7" fill="#f5c868" opacity="0.9"/>
<circle cx="1765.0" cy="310.1" r="3.0" fill="#f6e48c" opacity="0.8"/>
<circle cx="1711.4" cy="365.6" r="10.7" fill="#f8da7c" opacity="0.9"/>
<circle cx="1708.7" cy="363.0" r="3.7" fill="#f6e48c" opacity="0.8"/>
<circle cx="1697.4" cy="294.1" r="7.9" fill="#f8da7c" opacity="0.9"/>
<circle cx="1695.4" cy="292.1" r="2.8" fill="#f6e48c" opacity="0.8"/>
<circle cx="1617.3" cy="245.1" r="6.3" fill="#f7d374" opacity="0.9"/>
<circle cx="1615.7" cy="243.5" r="2.2" fill="#f6e48c" opacity="0.8"/>
<circle cx="1628.6" cy="325.1" r="5.6" fill="#f7d374" opacity="0.9"/>
<circle cx="1627.2" cy="323.7" r="2.0" fill="#f6e48c" opacity="0.8"/>
<circle cx="1730.4" cy="377.3" r="8.7" fill="#f5c868" opacity="0.9"/>
<circle cx="1728.3" cy="375.2" r="3.0" fill="#f6e48c" opacity="0.8"/>
<circle cx="1811.0" cy="327.1" r="5.9" fill="#f2bf5e" opacity="0.9"/>
<circle cx="1809.5" cy="325.6" r="2.1" fill="#f6e48c" opacity="0.8"/>
<circle cx="1830.4" cy="325.3" r="7.8" fill="#f5c868" opacity="0.9"/>
<circle cx="1828.4" cy="323.4" r="2.7" fill="#f6e48c" opacity="0.8"/>
<circle cx="1805.0" cy="384.0" r="7.8" fill="#f8da7c" opacity="0.9"/>
<circle cx="1803.0" cy="382.0" r="2.7" fill="#f6e48c" opacity="0.8"/>
<circle cx="1676.8" cy="256.6" r="9.5" fill="#f2bf5e" opacity="0.9"/>
<circle cx="1674.4" cy="254.2" r="3.3" fill="#f6e48c" opacity="0.8"/>
<circle cx="1716.6" cy="338.8" r="8.1" fill="#f7d374" opacity="0.9"/>
<circle cx="1714.6" cy="336.8" r="2.8" fill="#f6e48c" opacity="0.8"/>
<circle cx="1829.3" cy="314.2" r="5.9" fill="#f5c868" opacity="0.9"/>
<circle cx="1827.8" cy="312.8" r="2.1" fill="#f6e48c" opacity="0.8"/>
<circle cx="1783.3" cy="279.7" r="8.9" fill="#f5c868" opacity="0.9"/>
<circle cx="1781.1" cy="277.5" r="3.1" fill="#f6e48c" opacity="0.8"/>
<circle cx="1768.5" cy="274.2" r="7.2" fill="#f7d374" opacity="0.9"/>
<circle cx="1766.7" cy="272.4" r="2.5" fill="#f6e48c" opacity="0.8"/>
<circle cx="1687.3" cy="268.4" r="8.2" fill="#f2bf5e" opacity="0.9"/>
<circle cx="1685.2" cy="266.4" r="2.9" fill="#f6e48c" opacity="0.8"/>
<circle cx="1754.3" cy="327.0" r="9.7" fill="#f7d374" opacity="0.9"/>
<circle cx="1751.8" cy="324.6" r="3.4" fill="#f6e48c" opacity="0.8"/>
<circle cx="1794.7" cy="357.7" r="9.4" fill="#f7d374" opacity="0.9"/>
<circle cx="1792.4" cy="355.4" r="3.3" fill="#f6e48c" opacity="0.8"/>
<circle cx="1650.1" cy="308.9" r="9.4" fill="#f5c868" opacity="0.9"/>
<circle cx="1647.8" cy="306.6" r="3.3" fill="#f6e48c" opacity="0.8"/>
<circle cx="1790.9" cy="305.8" r="6.2" fill="#f2bf5e" opacity="0.9"/>
<circle cx="1789.4" cy="304.3" r="2.2" fill="#f6e48c" opacity="0.8"/>
<circle cx="1709.1" cy="375.6" r="10.9" fill="#f2bf5e" opacity="0.9"/>
<circle cx="1706.4" cy="372.8" r="3.8" fill="#f6e48c" opacity="0.8"/>
<circle cx="1621.6" cy="250.3" r="7.8" fill="#f2bf5e" opacity="0.9"/>
<circle cx="1619.7" cy="248.4" r="2.7" fill="#f6e48c" opacity="0.8"/>
<circle cx="1651.2" cy="328.6" r="10.4" fill="#f5c868" opacity="0.9"/>
<circle cx="1648.6" cy="326.0" r="3.6" fill="#f6e48c" opacity="0.8"/>
<circle cx="1716.8" cy="332.9" r="9.8" fill="#f5c868" opacity="0.9"/>
<circle cx="1714.4" cy="330.5" r="3.4" fill="#f6e48c" opacity="0.8"/>
<circle cx="1801.5" cy="253.0" r="7.3" fill="#f7d374" opacity="0.9"/>
<circle cx="1799.7" cy="251.2" r="2.6" fill="#f6e48c" opacity="0.8"/>
<circle cx="1716.5" cy="261.8" r="9.7" fill="#f2bf5e" opacity="0.9"/>
<circle cx="1714.0" cy="259.3" r="3.4" fill="#f6e48c" opacity="0.8"/>
<circle cx="1623.1" cy="376.9" r="9.3" fill="#f8da7c" opacity="0.9"/>
<circle cx="1620.8" cy="374.6" r="3.3" fill="#f6e48c" opacity="0.8"/>
<circle cx="1698.2" cy="377.0" r="9.3" fill="#f7d374" opacity="0.9"/>
<circle cx="1695.8" cy="374.7" r="3.3" fill="#f6e48c" opacity="0.8"/>
<circle cx="1839.4" cy="239.1" r="8.5" fill="#f8da7c" opacity="0.9"/>
<circle cx="1837.2" cy="237.0" r="3.0" fill="#f6e48c" opacity="0.8"/>
<circle cx="1794.8" cy="256.9" r="10.0" fill="#f8da7c" opacity="0.9"/>
<circle cx="1792.3" cy="254.4" r="3.5" fill="#f6e48c" opacity="0.8"/>
<circle cx="1759.2" cy="287.6" r="8.3" fill="#f7d374" opacity="0.9"/>
<circle cx="1757.2" cy="285.5" r="2.9" fill="#f6e48c" opacity="0.8"/>
<circle cx="1607.5" cy="354.9" r="9.4" fill="#f5c868" opacity="0.9"/>
<circle cx="1605.2" cy="352.6" r="3.3" fill="#f6e48c" opacity="0.8"/>
<circle cx="1728.0" cy="375.0" r="7.6" fill="#f7d374" opacity="0.9"/>
<circle cx="1726.1" cy="373.1" r="2.7" fill="#f6e48c" opacity="0.8"/>
<circle cx="1799.5" cy="266.7" r="6.5" fill="#f2bf5e" opacity="0.9"/>
<circle cx="1797.9" cy="265.0" r="2.3" fill="#f6e48c" opacity="0.8"/>
<circle cx="1722.0" cy="349.6" r="7.0" fill="#f8da7c" opacity="0.9"/>
<circle cx="1720.2" cy="347.8" r="2.4" fill="#f6e48c" opacity="0.8"/>
<circle cx="1801.4" cy="244.1" r="9.4" fill="#f8da7c" opacity="0.9"/>
<circle cx="1799.1" cy="241.8" r="3.3" fill="#f6e48c" opacity="0.8"/>
<circle cx="1760.5" cy="357.3" r="8.1" fill="#f7d374" opacity="0.9"/>
<circle cx="1758.4" cy="355.2" r="2.8" fill="#f6e48c" opacity="0.8"/>
<circle cx="1729.3" cy="313.5" r="5.1" fill="#f8da7c" opacity="0.9"/>
<circle cx="1728.0" cy="312.2" r="1.8" fill="#f6e48c" opacity="0.8"/>
<circle cx="1787.7" cy="326.3" r="9.7" fill="#f7d374" opacity="0.9"/>
<circle cx="1785.3" cy="323.9" r="3.4" fill="#f6e48c" opacity="0.8"/>
<circle cx="1643.5" cy="306.0" r="9.4" fill="#f5c868" opacity="0.9"/>
<circle cx="1641.2" cy="303.7" r="3.3" fill="#f6e48c" opacity="0.8"/>
<circle cx="1680.2" cy="312.8" r="8.3" fill="#f5c868" opacity="0.9"/>
<circle cx="1678.1" cy="310.7" r="2.9" fill="#f6e48c" opacity="0.8"/>
<circle cx="1813.1" cy="243.5" r="6.1" fill="#f5c868" opacity="0.9"/>
<circle cx="1811.6" cy="242.0" r="2.2" fill="#f6e48c" opacity="0.8"/>
<circle cx="1786.7" cy="311.2" r="8.4" fill="#f5c868" opacity="0.9"/>
<circle cx="1784.6" cy="309.1" r="2.9" fill="#f6e48c" opacity="0.8"/>
<circle cx="1708.2" cy="326.9" r="8.0" fill="#f7d374" opacity="0.9"/>
<circle cx="1706.2" cy="324.9" r="2.8" fill="#f6e48c" opacity="0.8"/>
<circle cx="1767.7" cy="302.9" r="8.2" fill="#f8da7c" opacity="0.9"/>
<circle cx="1765.6" cy="300.8" r="2.9" fill="#f6e48c" opacity="0.8"/>
<circle cx="1723.5" cy="272.1" r="8.1" fill="#f2bf5e" opacity="0.9"/>
<circle cx="1721.5" cy="270.1" r="2.8" fill="#f6e48c" opacity="0.8"/>
<circle cx="1822.6" cy="368.9" r="6.2" fill="#f8da7c" opacity="0.9"/>
<circle cx="1821.0" cy="367.4" r="2.2" fill="#f6e48c" opacity="0.8"/>
<circle cx="1635.1" cy="253.2" r="7.7" fill="#f5c868" opacity="0.9"/>
<circle cx="1633.2" cy="251.3" r="2.7" fill="#f6e48c" opacity="0.8"/>
<circle cx="1762.5" cy="299.3" r="6.3" fill="#f2bf5e" opacity="0.9"/>
<circle cx="1761.0" cy="297.7" r="2.2" fill="#f6e48c" opacity="0.8"/>
<circle cx="1789.4" cy="369.6" r="5.9" fill="#f2bf5e" opacity="0.9"/>
<circle cx="1788.0" cy="368.1" r="2.1" fill="#f6e48c" opacity="0.8"/>
<circle cx="1636.5" cy="367.4" r="10.8" fill="#f7d374" opacity="0.9"/>
<circle cx="1633.8" cy="364.7" r="3.8" fill="#f6e48c" opacity="0.8"/>
<circle cx="1780.6" cy="249.1" r="10.3" fill="#f7d374" opacity="0.9"/>
<circle cx="1778.0" cy="246.5" r="3.6" fill="#f6e48c" opacity="0.8"/>
<circle cx="1838.6" cy="359.9" r="6.0" fill="#f8da7c" opacity="0.9"/>
<circle cx="1837.1" cy="358.4" r="2.1" fill="#f6e48c" opacity="0.8"/>
<circle cx="1839.6" cy="295.6" r="7.5" fill="#f2bf5e" opacity="0.9"/>
<circle cx="1837.7" cy="293.7" r="2.6" fill="#f6e48c" opacity="0.8"/>
<circle cx="1678.4" cy="343.3" r="5.1" fill="#f8da7c" opacity="0.9"/>
<circle cx="1677.1" cy="342.0" r="1.8" fill="#f6e48c" opacity="0.8"/>
<circle cx="1707.5" cy="237.7" r="7.0" fill="#f2bf5e" opacity="0.9"/>
<circle cx="1705.7" cy="236.0" r="2.4" fill="#f6e48c" opacity="0.8"/>
<circle cx="1724.6" cy="244.6" r="10.9" fill="#f7d374" opacity="0.9"/>
<circle cx="1721.9" cy="241.9" r="3.8" fill="#f6e48c" opacity="0.8"/>
<circle cx="1834.2" cy="250.7" r="6.6" fill="#f5c868" opacity="0.9"/>
<circle cx="1832.6" cy="249.1" r="2.3" fill="#f6e48c" opacity="0.8"/>
<circle cx="1818.5" cy="262.2" r="9.5" fill="#f8da7c" opacity="0.9"/>
<circle cx="1816.2" cy="259.8" r="3.3" fill="#f6e48c" opacity="0.8"/>
<circle cx="1805.1" cy="336.4" r="10.7" fill="#f8da7c" opacity="0.9"/>
<circle cx="1802.4" cy="333.7" r="3.7" fill="#f6e48c" opacity="0.8"/>
<circle cx="1638.0" cy="372.9" r="8.4" fill="#f2bf5e" opacity="0.9"/>
<circle cx="1635.9" cy="370.8" r="2.9" fill="#f6e48c" opacity="0.8"/>
<circle cx="1623.7" cy="243.6" r="9.1" fill="#f8da7c" opacity="0.9"/>
<circle cx="1621.5" cy="241.3" r="3.2" fill="#f6e48c" opacity="0.8"/>
<circle cx="1816.0" cy="275.3" r="5.1" fill="#f5c868" opacity="0.9"/>
<circle cx="1814.7" cy="274.1" r="1.8" fill="#f6e48c" opacity="0.8"/>
<circle cx="1793.7" cy="247.6" r="10.1" fill="#f5c868" opacity="0.9"/>
<circle cx="1791.1" cy="245.0" r="3.5" fill="#f6e48c" opacity="0.8"/>
<circle cx="1665.5" cy="253.3" r="5.1" fill="#f8da7c" opacity="0.9"/>
<circle cx="1664.2" cy="252.0" r="1.8" fill="#f6e48c" opacity="0.8"/>
<circle cx="1823.5" cy="275.2" r="5.8" fill="#f7d374" opacity="0.9"/>
<circle cx="1822.1" cy="273.7" r="2.0" fill="#f6e48c" opacity="0.8"/>
<circle cx="1826.2" cy="380.4" r="6.6" fill="#f7d374" opacity="0.9"/>
<circle cx="1824.6" cy="378.7" r="2.3" fill="#f6e48c" opacity="0.8"/>
<circle cx="1650.5" cy="281.8" r="6.8" fill="#f7d374" opacity="0.9"/>
<circle cx="1648.8" cy="280.1" r="2.4" fill="#f6e48c" opacity="0.8"/>
<circle cx="1671.6" cy="310.0" r="6.1" fill="#f2bf5e" opacity="0.9"/>
<circle cx="1670.1" cy="308.5" r="2.1" fill="#f6e48c" opacity="0.8"/>
<circle cx="1794.2" cy="384.2" r="5.2" fill="#f5c868" opacity="0.9"/>
<circle cx="1792.9" cy="382.9" r="1.8" fill="#f6e48c" opacity="0.8"/>
<circle cx="1777.3" cy="317.7" r="6.1" fill="#f8da7c" opacity="0.9"/>
<circle cx="1775.8" cy="316.1" r="2.1" fill="#f6e48c" opacity="0.8"/>
<circle cx="1661.0" cy="302.1" r="8.9" fill="#f8da7c" opacity="0.9"/>
<circle cx="1658.8" cy="299.8" r="3.1" fill="#f6e48c" opacity="0.8"/>
<circle cx="1759.0" cy="316.9" r="10.3" fill="#f2bf5e" opacity="0.9"/>
<circle cx="1756.5" cy="314.3" r="3.6" fill="#f6e48c" opacity="0.8"/>
<circle cx="1766.5" cy="382.4" r="7.1" fill="#f7d374" opacity="0.9"/>
<circle cx="1764.7" cy="380.6" r="2.5" fill="#f6e48c" opacity="0.8"/>
<circle cx="1699.0" cy="287.1" r="5.3" fill="#f7d374" opacity="0.9"/>
<circle cx="1697.6" cy="285.8" r="1.9" fill="#f6e48c" opacity="0.8"/>
<circle cx="1605.8" cy="328.8" r="10.3" fill="#f8da7c" opacity="0.9"/>
<circle cx="1603.2" cy="326.2" r="3.6" fill="#f6e48c" opacity="0.8"/>
<circle cx="1641.4" cy="247.7" r="10.0" fill="#f2bf5e" opacity="0.9"/>
<circle cx="1638.8" cy="245.2" r="3.5" fill="#f6e48c" opacity="0.8"/>
<circle cx="1745.3" cy="338.9" r="5.3" fill="#f7d374" opacity="0.9"/>
<circle cx="1744.0" cy="337.6" r="1.8" fill="#f6e48c" opacity="0.8"/>
<circle cx="1640.0" cy="301.9" r="6.6" fill="#f2bf5e" opacity="0.9"/>
<circle cx="1638.3" cy="300.2" r="2.3" fill="#f6e48c" opacity="0.8"/>
<circle cx="1834.5" cy="317.1" r="6.5" fill="#f2bf5e" opacity="0.9"/>
<circle cx="1832.9" cy="315.4" r="2.3" fill="#f6e48c" opacity="0.8"/>
<circle cx="1654.4" cy="262.4" r="7.0" fill="#f5c868" opacity="0.9"/>
<circle cx="1652.6" cy="260.7" r="2.5" fill="#f6e48c" opacity="0.8"/>
<circle cx="1715.6" cy="310.4" r="6.2" fill="#f5c868" opacity="0.9"/>
<circle cx="1714.1" cy="308.9" r="2.2" fill="#f6e48c" opacity="0.8"/>
<circle cx="1624.1" cy="357.6" r="5.9" fill="#f5c868" opacity="0.9"/>
<circle cx="1622.6" cy="356.1" r="2.1" fill="#f6e48c" opacity="0.8"/>
<circle cx="1696.4" cy="279.9" r="8.8" fill="#f5c868" opacity="0.9"/>
<circle cx="1694.2" cy="277.8" r="3.1" fill="#f6e48c" opacity="0.8"/>
<circle cx="1742.1" cy="314.4" r="9.5" fill="#f8da7c" opacity="0.9"/>
<circle cx="1739.7" cy="312.0" r="3.3" fill="#f6e48c" opacity="0.8"/>
<circle cx="1784.8" cy="343.1" r="8.0" fill="#f2bf5e" opacity="0.9"/>
<circle cx="1782.8" cy="341.1" r="2.8" fill="#f6e48c" opacity="0.8"/>
<circle cx="1775.2" cy="331.5" r="5.3" fill="#f8da7c" opacity="0.9"/>
<circle cx="1773.9" cy="330.2" r="1.8" fill="#f6e48c" opacity="0.8"/>
<circle cx="1777.5" cy="356.8" r="5.8" fill="#f5c868" opacity="0.9"/>
<circle cx="1776.0" cy="355.4" r="2.0" fill="#f6e48c" opacity="0.8"/>
<circle cx="1799.6" cy="322.6" r="10.4" fill="#f7d374" opacity="0.9"/>
<circle cx="1797.0" cy="320.0" r="3.6" fill="#f6e48c" opacity="0.8"/>
<circle cx="1622.7" cy="241.3" r="8.8" fill="#f5c868" opacity="0.9"/>
<circle cx="1620.5" cy="239.1" r="3.1" fill="#f6e48c" opacity="0.8"/>
<circle cx="1692.3" cy="302.7" r="5.3" fill="#f5c868" opacity="0.9"/>
<circle cx="1690.9" cy="301.4" r="1.9" fill="#f6e48c" opacity="0.8"/>
<circle cx="1751.8" cy="337.1" r="7.9" fill="#f5c868" opacity="0.9"/>
<circle cx="1749.8" cy="335.1" r="2.8" fill="#f6e48c" opacity="0.8"/>
<circle cx="1711.4" cy="245.5" r="10.6" fill="#f5c868" opacity="0.9"/>
<circle cx="1708.8" cy="242.9" r="3.7" fill="#f6e48c" opacity="0.8"/>
<circle cx="1759.7" cy="244.9" r="9.4" fill="#f2bf5e" opacity="0.9"/>
<circle cx="1757.4" cy="242.6" r="3.3" fill="#f6e48c" opacity="0.8"/>
<circle cx="1795.5" cy="361.9" r="6.4" fill="#f7d374" opacity="0.9"/>
<circle cx="1793.9" cy="360.3" r="2.2" fill="#f6e48c" opacity="0.8"/>
<circle cx="1657.5" cy="332.5" r="7.8" fill="#f8da7c" opacity="0.9"/>
<circle cx="1655.5" cy="330.5" r="2.7" fill="#f6e48c" opacity="0.8"/>
<circle cx="1620.7" cy="371.6" r="6.7" fill="#f5c868" opacity="0.9"/>
<circle cx="1619.0" cy="369.9" r="2.4" fill="#f6e48c" opacity="0.8"/>
<circle cx="1749.6" cy="331.4" r="5.5" fill="#f7d374" opacity="0.9"/>
<circle cx="1748.2" cy="330.0" r="1.9" fill="#f6e48c" opacity="0.8"/>
<circle cx="1681.6" cy="332.7" r="9.2" fill="#f7d374" opacity="0.9"/>
<circle cx="1679.3" cy="330.4" r="3.2" fill="#f6e48c" opacity="0.8"/>
<circle cx="1605.4" cy="244.1" r="6.6" fill="#f5c868" opacity="0.9"/>
<circle cx="1603.7" cy="242.4" r="2.3" fill="#f6e48c" opacity="0.8"/>
<circle cx="1767.6" cy="336.4" r="6.7" fill="#f2bf5e" opacity="0.9"/>
<circle cx="1765.9" cy="334.7" r="2.4" fill="#f6e48c" opacity="0.8"/>
<circle cx="1713.3" cy="305.0" r="5.7" fill="#f7d374" opacity="0.9"/>
<circle cx="1711.8" cy="303.5" r="2.0" fill="#f6e48c" opacity="0.8"/>
<circle cx="1676.8" cy="247.9" r="7.8" fill="#f2bf5e" opacity="0.9"/>
<circle cx="1674.8" cy="245.9" r="2.7" fill="#f6e48c" opacity="0.8"/>
<circle cx="1711.9" cy="358.0" r="10.8" fill="#f8da7c" opacity="0.9"/>
<circle cx="1709.2" cy="355.3" r="3.8" fill="#f6e48c" opacity="0.8"/>
<circle cx="1839.6" cy="293.0" r="10.5" fill="#f7d374" opacity="0.9"/>
<circle cx="1836.9" cy="290.4" r="3.7" fill="#f6e48c" opacity="0.8"/>
<circle cx="1620.2" cy="248.5" r="9.5" fill="#f2bf5e" opacity="0.9"/>
<circle cx="1617.8" cy="246.2" r="3.3" fill="#f6e48c" opacity="0.8"/>
<circle cx="1829.7" cy="254.9" r="9.9" fill="#f2bf5e" opacity="0.9"/>
<circle cx="1827.2" cy="252.4" r="3.5" fill="#f6e48c" opacity="0.8"/>
<circle cx="1814.0" cy="340.5" r="6.4" fill="#f8da7c" opacity="0.9"/>
<circle cx="1812.4" cy="338.9" r="2.2" fill="#f6e48c" opacity="0.8"/>
<circle cx="1696.4" cy="258.9" r="10.7" fill="#f8da7c" opacity="0.9"/>
<circle cx="1693.8" cy="256.2" r="3.7" fill="#f6e48c" opacity="0.8"/>
<circle cx="1699.1" cy="344.1" r="7.5" fill="#f8da7c" opacity="0.9"/>
<circle cx="1697.3" cy="342.2" r="2.6" fill="#f6e48c" opacity="0.8"/>
<circle cx="1677.8" cy="361.0" r="5.0" fill="#f2bf5e" opacity="0.9"/>
<circle cx="1676.6" cy="359.8" r="1.8" fill="#f6e48c" opacity="0.8"/>
<circle cx="1802.6" cy="253.0" r="10.6" fill="#f5c868" opacity="0.9"/>
<circle cx="1800.0" cy="250.4" r="3.7" fill="#f6e48c" opacity="0.8"/>
<circle cx="1817.5" cy="278.5" r="7.2" fill="#f8da7c" opacity="0.9"/>
<circle cx="1815.7" cy="276.7" r="2.5" fill="#f6e48c" opacity="0.8"/>
<circle cx="1695.5" cy="365.5" r="5.5" fill="#f8da7c" opacity="0.9"/>
<circle cx="1694.1" cy="364.1" r="1.9" fill="#f6e48c" opacity="0.8"/>
<circle cx="1782.7" cy="363.1" r="6.7" fill="#f5c868" opacity="0.9"/>
<circle cx="1781.0" cy="361.5" r="2.3" fill="#f6e48c" opacity="0.8"/>
<circle cx="1801.6" cy="277.8" r="10.6" fill="#f7d374" opacity="0.9"/>
<circle cx="1798.9" cy="275.2" r="3.7" fill="#f6e48c" opacity="0.8"/>
<circle cx="1834.1" cy="300.4" r="6.9" fill="#f2bf5e" opacity="0.9"/>
<circle cx="1832.4" cy="298.7" r="2.4" fill="#f6e48c" opacity="0.8"/>
<circle cx="1789.7" cy="299.2" r="5.2" fill="#f8da7c" opacity="0.9"/>
<circle cx="1788.4" cy="297.9" r="1.8" fill="#f6e48c" opacity="0.8"/>
<circle cx="1820.3" cy="376.1" r="8.3" fill="#f5c868" opacity="0.9"/>
<circle cx="1818.3" cy="374.0" r="2.9" fill="#f6e48c" opacity="0.8"/>
<circle cx="1614.2" cy="344.9" r="7.7" fill="#f7d374" opacity="0.9"/>
<circle cx="1612.3" cy="342.9" r="2.7" fill="#f6e48c" opacity="0.8"/>
<circle cx="1756.2" cy="277.9" r="5.3" fill="#f7d374" opacity="0.9"/>
<circle cx="1754.9" cy="276.6" r="1.9" fill="#f6e48c" opacity="0.8"/>
<circle cx="1643.1" cy="297.2" r="6.7" fill="#f2bf5e" opacity="0.9"/>
<circle cx="1641.5" cy="295.6" r="2.3" fill="#f6e48c" opacity="0.8"/>
<circle cx="1778.7" cy="381.4" r="6.6" fill="#f7d374" opacity="0.9"/>
<circle cx="1777.1" cy="379.8" r="2.3" fill="#f6e48c" opacity="0.8"/>
<circle cx="1674.2" cy="318.6" r="7.4" fill="#f7d374" opacity="0.9"/>
<circle cx="1672.3" cy="316.8" r="2.6" fill="#f6e48c" opacity="0.8"/>
<circle cx="1755.9" cy="246.3" r="8.0" fill="#f8da7c" opacity="0.9"/>
<circle cx="1753.9" cy="244.3" r="2.8" fill="#f6e48c" opacity="0.8"/>
<circle cx="1733.7" cy="302.9" r="7.0" fill="#f8da7c" opacity="0.9"/>
<circle cx="1732.0" cy="301.2" r="2.4" fill="#f6e48c" opacity="0.8"/>
<circle cx="1704.4" cy="317.2" r="6.5" fill="#f7d374" opacity="0.9"/>
<circle cx="1702.8" cy="315.6" r="2.3" fill="#f6e48c" opacity="0.8"/>
<circle cx="1684.0" cy="248.7" r="6.4" fill="#f2bf5e" opacity="0.9"/>
<circle cx="1682.4" cy="247.1" r="2.3" fill="#f6e48c" opacity="0.8"/>
<circle cx="1795.5" cy="265.3" r="5.1" fill="#f8da7c" opacity="0.9"/>
<circle cx="1794.2" cy="264.0" r="1.8" fill="#f6e48c" opacity="0.8"/>
<circle cx="1693.7" cy="346.9" r="6.3" fill="#f2bf5e" opacity="0.9"/>
<circle cx="1692.2" cy="345.3" r="2.2" fill="#f6e48c" opacity="0.8"/>
<circle cx="1683.1" cy="244.3" r="6.7" fill="#f2bf5e" opacity="0.9"/>
<circle cx="1681.4" cy="242.6" r="2.3" fill="#f6e48c" opacity="0.8"/>
<circle cx="1632.4" cy="310.5" r="8.8" fill="#f7d374" opacity="0.9"/>
<circle cx="1630.2" cy="308.3" r="3.1" fill="#f6e48c" opacity="0.8"/>
<circle cx="1624.5" cy="369.5" r="7.3" fill="#f8da7c" opacity="0.9"/>
<circle cx="1622.7" cy="367.7" r="2.6" fill="#f6e48c" opacity="0.8"/>
<circle cx="1705.4" cy="281.8" r="9.9" fill="#f5c868" opacity="0.9"/>
<circle cx="1703.0" cy="279.3" r="3.5" fill="#f6e48c" opacity="0.8"/>
<circle cx="1632.8" cy="298.8" r="9.6" fill="#f8da7c" opacity="0.9"/>
<circle cx="1630.4" cy="296.4" r="3.4" fill="#f6e48c" opacity="0.8"/>
<circle cx="1833.4" cy="308.5" r="5.4" fill="#f8da7c" opacity="0.9"/>
<circle cx="1832.1" cy="307.1" r="1.9" fill="#f6e48c" opacity="0.8"/>
<circle cx="1834.4" cy="272.3" r="5.7" fill="#f7d374" opacity="0.9"/>
<circle cx="1833.0" cy="270.9" r="2.0" fill="#f6e48c" opacity="0.8"/>
<circle cx="1638.7" cy="380.8" r="5.7" fill="#f8da7c" opacity="0.9"/>
<circle cx="1637.3" cy="379.4" r="2.0" fill="#f6e48c" opacity="0.8"/>
<circle cx="1622.7" cy="351.5" r="5.0" fill="#f7d374" opacity="0.9"/>
<circle cx="1621.4" cy="350.3" r="1.8" fill="#f6e48c" opacity="0.8"/>
<circle cx="1657.9" cy="373.0" r="8.9" fill="#f2bf5e" opacity="0.9"/>
<circle cx="1655.7" cy="370.8" r="3.1" fill="#f6e48c" opacity="0.8"/>
<circle cx="1832.0" cy="329.0" r="8.2" fill="#f8da7c" opacity="0.9"/>
<circle cx="1830.0" cy="326.9" r="2.9" fill="#f6e48c" opacity="0.8"/>
<circle cx="1769.1" cy="251.8" r="5.4" fill="#f7d374" opacity="0.9"/>
<circle cx="1767.7" cy="250.5" r="1.9" fill="#f6e48c" opacity="0.8"/>
<circle cx="1695.0" cy="268.5" r="8.6" fill="#f5c868" opacity="0.9"/>
<circle cx="1692.8" cy="266.4" r="3.0" fill="#f6e48c" opacity="0.8"/>
<circle cx="1730.6" cy="384.5" r="6.7" fill="#f2bf5e" opacity="0.9"/>
<circle cx="1729.0" cy="382.8" r="2.3" fill="#f6e48c" opacity="0.8"/>
<circle cx="1756.2" cy="367.6" r="7.9" fill="#f7d374" opacity="0.9"/>
<circle cx="1754.2" cy="365.6" r="2.7" fill="#f6e48c" opacity="0.8"/>
<circle cx="1732.9" cy="239.4" r="7.5" fill="#f2bf5e" opacity="0.9"/>
<circle cx="1731.0" cy="237.5" r="2.6" fill="#f6e48c" opacity="0.8"/>
<circle cx="1615.6" cy="264.1" r="10.3" fill="#f8da7c" opacity="0.9"/>
<circle cx="1613.0" cy="261.5" r="3.6" fill="#f6e48c" opacity="0.8"/>
<circle cx="1621.7" cy="269.2" r="7.5" fill="#f2bf5e" opacity="0.9"/>
<circle cx="1619.9" cy="267.3" r="2.6" fill="#f6e48c" opacity="0.8"/>
<circle cx="1656.5" cy="240.1" r="7.0" fill="#f8da7c" opacity="0.9"/>
<circle cx="1654.8" cy="238.4" r="2.5" fill="#f6e48c" opacity="0.8"/>
<circle cx="1688.8" cy="294.5" r="5.0" fill="#f2bf5e" opacity="0.9"/>
<circle cx="1687.6" cy="293.2" r="1.8" fill="#f6e48c" opacity="0.8"/>
<circle cx="1778.8" cy="310.7" r="6.2" fill="#f7d374" opacity="0.9"/>
<circle cx="1777.2" cy="309.2" r="2.2" fill="#f6e48c" opacity="0.8"/>
<circle cx="1676.8" cy="358.0" r="6.4" fill="#f7d374" opacity="0.9"/>
<circle cx="1675.2" cy="356.4" r="2.2" fill="#f6e48c" opacity="0.8"/>
<circle cx="1665.6" cy="368.4" r="5.7" fill="#f8da7c" opacity="0.9"/>
<circle cx="1664.2" cy="367.0" r="2.0" fill="#f6e48c" opacity="0.8"/>
<circle cx="1748.0" cy="369.5" r="7.9" fill="#f5c868" opacity="0.9"/>
<circle cx="1746.0" cy="367.5" r="2.8" fill="#f6e48c" opacity="0.8"/>
<circle cx="1828.8" cy="257.0" r="7.4" fill="#f7d374" opacity="0.9"/>
<circle cx="1826.9" cy="255.1" r="2.6" fill="#f6e48c" opacity="0.8"/>
<circle cx="1608.0" cy="324.4" r="7.5" fill="#f5c868" opacity="0.9"/>
<circle cx="1606.2" cy="322.5" r="2.6" fill="#f6e48c" opacity="0.8"/>
<circle cx="1646.3" cy="302.4" r="9.3" fill="#f2bf5e" opacity="0.9"/>
<circle cx="1644.0" cy="300.1" r="3.2" fill="#f6e48c" opacity="0.8"/>
<circle cx="1777.2" cy="384.6" r="10.6" fill="#f2bf5e" opacity="0.9"/>
<circle cx="1774.6" cy="382.0" r="3.7" fill="#f6e48c" opacity="0.8"/>
<circle cx="1647.9" cy="332.9" r="8.1" fill="#f8da7c" opacity="0.9"/>
<circle cx="1645.9" cy="330.8" r="2.9" fill="#f6e48c" opacity="0.8"/>
<circle cx="1610.0" cy="334.7" r="7.3" fill="#f2bf5e" opacity="0.9"/>
<circle cx="1608.2" cy="332.8" r="2.5" fill="#f6e48c" opacity="0.8"/>
<circle cx="1837.4" cy="301.4" r="5.7" fill="#f5c868" opacity="0.9"/>
<circle cx="1836.0" cy="300.0" r="2.0" fill="#f6e48c" opacity="0.8"/>
<circle cx="1669.2" cy="287.7" r="10.7" fill="#f5c868" opacity="0.9"/>
<circle cx="1666.5" cy="285.0" r="3.8" fill="#f6e48c" opacity="0.8"/>
<circle cx="1736.3" cy="348.8" r="7.3" fill="#f2bf5e" opacity="0.9"/>
<circle cx="1734.5" cy="347.0" r="2.5" fill="#f6e48c" opacity="0.8"/>
<circle cx="1798.5" cy="299.9" r="5.3" fill="#f8da7c" opacity="0.9"/>
<circle cx="1797.2" cy="298.5" r="1.9" fill="#f6e48c" opacity="0.8"/>
<circle cx="1649.1" cy="316.2" r="7.7" fill="#f2bf5e" opacity="0.9"/>
<circle cx="1647.2" cy="314.3" r="2.7" fill="#f6e48c" opacity="0.8"/>
<circle cx="1689.3" cy="369.5" r="5.2" fill="#f8da7c" opacity="0.9"/>
<circle cx="1688.0" cy="368.3" r="1.8" fill="#f6e48c" opacity="0.8"/>
<circle cx="1661.6" cy="328.8" r="7.4" fill="#f8da7c" opacity="0.9"/>
<circle cx="1659.7" cy="327.0" r="2.6" fill="#f6e48c" opacity="0.8"/>
<circle cx="1610.7" cy="244.4" r="10.5" fill="#f2bf5e" opacity="0.9"/>
<circle cx="1608.1" cy="241.8" r="3.7" fill="#f6e48c" opacity="0.8"/>
<circle cx="1648.9" cy="244.4" r="8.6" fill="#f2bf5e" opacity="0.9"/>
<circle cx="1646.8" cy="242.3" r="3.0" fill="#f6e48c" opacity="0.8"/>
<circle cx="1667.4" cy="378.7" r="8.7" fill="#f2bf5e" opacity="0.9"/>
<circle cx="1665.2" cy="376.5" r="3.0" fill="#f6e48c" opacity="0.8"/>
<circle cx="1780.5" cy="338.4" r="10.5" fill="#f2bf5e" opacity="0.9"/>
<circle cx="1777.9" cy="335.8" r="3.7" fill="#f6e48c" opacity="0.8"/>
<circle cx="1603.3" cy="348.3" r="10.5" fill="#f5c868" opacity="0.9"/>
<circle cx="1600.7" cy="345.7" r="3.7" fill="#f6e48c" opacity="0.8"/>
<circle cx="1608.2" cy="270.1" r="7.9" fill="#f8da7c" opacity="0.9"/>
<circle cx="1606.2" cy="268.1" r="2.7" fill="#f6e48c" opacity="0.8"/>
<circle cx="1830.0" cy="293.0" r="6.5" fill="#f8da7c" opacity="0.9"/>
<circle cx="1828.4" cy="291.4" r="2.3" fill="#f6e48c" opacity="0.8"/>
<circle cx="1796.8" cy="254.9" r="8.0" fill="#f5c868" opacity="0.9"/>
<circle cx="1794.8" cy="252.9" r="2.8" fill="#f6e48c" opacity="0.8"/>
<circle cx="1793.9" cy="345.8" r="9.9" fill="#f7d374" opacity="0.9"/>
<circle cx="1791.4" cy="343.3" r="3.5" fill="#f6e48c" opacity="0.8"/>
<circle cx="1747.3" cy="284.2" r="6.9" fill="#f2bf5e" opacity="0.9"/>
<circle cx="1745.6" cy="282.4" r="2.4" fill="#f6e48c" opacity="0.8"/>
<circle cx="1789.4" cy="324.4" r="8.1" fill="#f8da7c" opacity="0.9"/>
<circle cx="1787.4" cy="322.3" r="2.8" fill="#f6e48c" opacity="0.8"/>
<circle cx="1782.0" cy="272.1" r="5.4" fill="#f5c868" opacity="0.9"/>
<circle cx="1780.7" cy="270.7" r="1.9" fill="#f6e48c" opacity="0.8"/>
<circle cx="1717.3" cy="316.7" r="6.0" fill="#f8da7c" opacity="0.9"/>
<circle cx="1715.8" cy="315.2" r="2.1" fill="#f6e48c" opacity="0.8"/>
<circle cx="1813.2" cy="383.2" r="6.6" fill="#f5c868" opacity="0.9"/>
<circle cx="1811.5" cy="381.5" r="2.3" fill="#f6e48c" opacity="0.8"/>
<circle cx="1652.1" cy="298.2" r="10.9" fill="#f8da7c" opacity="0.9"/>
<circle cx="1649.4" cy="295.4" r="3.8" fill="#f6e48c" opacity="0.8"/>
<circle cx="1643.7" cy="254.9" r="7.8" fill="#f7d374" opacity="0.9"/>
<circle cx="1641.8" cy="253.0" r="2.7" fill="#f6e48c" opacity="0.8"/>
<circle cx="1780.9" cy="362.0" r="9.0" fill="#f5c868" opacity="0.9"/>
<circle cx="1778.6" cy="359.8" r="3.1" fill="#f6e48c" opacity="0.8"/>
<circle cx="1788.4" cy="279.1" r="6.7" fill="#f2bf5e" opacity="0.9"/>
<circle cx="1786.8" cy="277.4" r="2.3" fill="#f6e48c" opacity="0.8"/>
<circle cx="1691.4" cy="345.7" r="6.2" fill="#f7d374" opacity="0.9"/>
<circle cx="1689.8" cy="344.2" r="2.2" fill="#f6e48c" opacity="0.8"/>
<circle cx="1646.7" cy="270.3" r="6.7" fill="#f7d374" opacity="0.9"/>
<circle cx="1645.0" cy="268.7" r="2.3" fill="#f6e48c" opacity="0.8"/>
<circle cx="1680.3" cy="294.4" r="11.0" fill="#f7d374" opacity="0.9"/>
<circle cx="1677.5" cy="291.7" r="3.8" fill="#f6e48c" opacity="0.8"/>
<circle cx="1757.4" cy="250.1" r="7.8" fill="#f5c868" opacity="0.9"/>
<circle cx="1755.5" cy="248.1" r="2.7" fill="#f6e48c" opacity="0.8"/>
<circle cx="1626.8" cy="306.2" r="9.9" fill="#f8da7c" opacity="0.9"/>
<circle cx="1624.3" cy="303.7" r="3.5" fill="#f6e48c" opacity="0.8"/>
<circle cx="1820.6" cy="241.1" r="6.8" fill="#f5c868" opacity="0.9"/>
<circle cx="1818.9" cy="239.4" r="2.4" fill="#f6e48c" opacity="0.8"/>
<circle cx="1614.4" cy="325.1" r="10.0" fill="#f7d374" opacity="0.9"/>
<circle cx="1611.9" cy="322.6" r="3.5" fill="#f6e48c" opacity="0.8"/>
<circle cx="1824.3" cy="290.8" r="10.2" fill="#f8da7c" opacity="0.9"/>
<circle cx="1821.8" cy="288.3" r="3.6" fill="#f6e48c" opacity="0.8"/>
<circle cx="1746.3" cy="351.2" r="9.0" fill="#f5c868" opacity="0.9"/>
<circle cx="1744.0" cy="349.0" r="3.1" fill="#f6e48c" opacity="0.8"/>
<circle cx="1627.6" cy="324.4" r="8.7" fill="#f7d374" opacity="0.9"/>
<circle cx="1625.5" cy="322.2" r="3.1" fill="#f6e48c" opacity="0.8"/>
<circle cx="1611.3" cy="286.0" r="5.3" fill="#f2bf5e" opacity="0.9"/>
<circle cx="1610.0" cy="284.7" r="1.8" fill="#f6e48c" opacity="0.8"/>
<circle cx="1611.5" cy="344.8" r="10.5" fill="#f5c868" opacity="0.9"/>
<circle cx="1608.9" cy="342.2" r="3.7" fill="#f6e48c" opacity="0.8"/>
<circle cx="1797.8" cy="296.3" r="7.2" fill="#f2bf5e" opacity="0.9"/>
<circle cx="1796.0" cy="294.5" r="2.5" fill="#f6e48c" opacity="0.8"/>
<circle cx="1621.0" cy="239.7" r="8.0" fill="#f8da7c" opacity="0.9"/>
<circle cx="1619.0" cy="237.7" r="2.8" fill="#f6e48c" opacity="0.8"/>
<circle cx="1617.5" cy="250.2" r="7.4" fill="#f7d374" opacity="0.9"/>
<circle cx="1615.7" cy="248.4" r="2.6" fill="#f6e48c" opacity="0.8"/>
<circle cx="1754.9" cy="248.7" r="6.0" fill="#f2bf5e" opacity="0.9"/>
<circle cx="1753.4" cy="247.2" r="2.1" fill="#f6e48c" opacity="0.8"/>
<circle cx="1700.2" cy="277.5" r="6.8" fill="#f5c868" opacity="0.9"/>
<circle cx="1698.5" cy="275.8" r="2.4" fill="#f6e48c" opacity="0.8"/>
<circle cx="1676.9" cy="320.0" r="7.1" fill="#f8da7c" opacity="0.9"/>
<circle cx="1675.1" cy="318.2" r="2.5" fill="#f6e48c" opacity="0.8"/>
<circle cx="1606.7" cy="350.0" r="9.8" fill="#f7d374" opacity="0.9"/>
<circle cx="1604.3" cy="347.5" r="3.4" fill="#f6e48c" opacity="0.8"/>
<circle cx="1695.6" cy="295.7" r="10.7" fill="#f8da7c" opacity="0.9"/>
<circle cx="1693.0" cy="293.1" r="3.7" fill="#f6e48c" opacity="0.8"/>
<circle cx="1817.5" cy="298.6" r="9.9" fill="#f8da7c" opacity="0.9"/>
<circle cx="1815.0" cy="296.1" r="3.5" fill="#f6e48c" opacity="0.8"/>
<circle cx="1740.3" cy="289.7" r="9.6" fill="#f7d374" opacity="0.9"/>
<circle cx="1737.9" cy="287.3" r="3.4" fill="#f6e48c" opacity="0.8"/>
<circle cx="1605.9" cy="317.7" r="8.8" fill="#f8da7c" opacity="0.9"/>
<circle cx="1603.7" cy="315.5" r="3.1" fill="#f6e48c" opacity="0.8"/>
<circle cx="1623.6" cy="328.3" r="7.2" fill="#f7d374" opacity="0.9"/>
<circle cx="1621.8" cy="326.5" r="2.5" fill="#f6e48c" opacity="0.8"/>
<circle cx="1637.2" cy="277.5" r="8.1" fill="#f5c868" opacity="0.9"/>
<circle cx="1635.2" cy="275.5" r="2.8" fill="#f6e48c" opacity="0.8"/>
<circle cx="1628.4" cy="308.6" r="9.8" fill="#f7d374" opacity="0.9"/>
<circle cx="1625.9" cy="306.1" r="3.4" fill="#f6e48c" opacity="0.8"/>
<circle cx="1674.4" cy="360.6" r="5.3" fill="#f8da7c" opacity="0.9"/>
<circle cx="1673.1" cy="359.3" r="1.8" fill="#f6e48c" opacity="0.8"/>
<circle cx="1677.4" cy="326.1" r="8.8" fill="#f5c868" opacity="0.9"/>
<circle cx="1675.2" cy="323.9" r="3.1" fill="#f6e48c" opacity="0.8"/>
<circle cx="1818.1" cy="328.1" r="9.9" fill="#f7d374" opacity="0.9"/>
<circle cx="1815.7" cy="325.6" r="3.5" fill="#f6e48c" opacity="0.8"/>
<circle cx="1755.2" cy="363.5" r="8.7" fill="#f7d374" opacity="0.9"/>
<circle cx="1753.0" cy="361.3" r="3.1" fill="#f6e48c" opacity="0.8"/>
<circle cx="1800.2" cy="262.4" r="6.3" fill="#f8da7c" opacity="0.9"/>
<circle cx="1798.7" cy="260.9" r="2.2" fill="#f6e48c" opacity="0.8"/>
<circle cx="1826.3" cy="258.5" r="7.2" fill="#f7d374" opacity="0.9"/>
<circle cx="1824.5" cy="256.7" r="2.5" fill="#f6e48c" opacity="0.8"/>
<circle cx="1661.3" cy="343.7" r="10.4" fill="#f5c868" opacity="0.9"/>
<circle cx="1658.8" cy="341.1" r="3.6" fill="#f6e48c" opacity="0.8"/>
<circle cx="1813.3" cy="361.4" r="9.0" fill="#f2bf5e" opacity="0.9"/>
<circle cx="1811.0" cy="359.1" r="3.2" fill="#f6e48c" opacity="0.8"/>
<circle cx="1630.5" cy="324.9" r="8.3" fill="#f2bf5e" opacity="0.9"/>
<circle cx="1628.4" cy="322.9" r="2.9" fill="#f6e48c" opacity="0.8"/>
<circle cx="1757.3" cy="281.2" r="6.5" fill="#f8da7c" opacity="0.9"/>
<circle cx="1755.6" cy="279.6" r="2.3" fill="#f6e48c" opacity="0.8"/>
<circle cx="1759.6" cy="302.0" r="7.6" fill="#f5c868" opacity="0.9"/>
<circle cx="1757.7" cy="300.1" r="2.7" fill="#f6e48c" opacity="0.8"/>
<circle cx="1603.2" cy="382.9" r="7.8" fill="#f8da7c" opacity="0.9"/>
<circle cx="1601.3" cy="381.0" r="2.7" fill="#f6e48c" opacity="0.8"/>
<circle cx="1784.6" cy="352.0" r="7.7" fill="#f7d374" opacity="0.9"/>
<circle cx="1782.6" cy="350.1" r="2.7" fill="#f6e48c" opacity="0.8"/>
<circle cx="1795.8" cy="295.1" r="5.4" fill="#f2bf5e" opacity="0.9"/>
<circle cx="1794.4" cy="293.7" r="1.9" fill="#f6e48c" opacity="0.8"/>
<circle cx="1705.1" cy="248.8" r="7.7" fill="#f5c868" opacity="0.9"/>
<circle cx="1703.2" cy="246.8" r="2.7" fill="#f6e48c" opacity="0.8"/>
<circle cx="1612.1" cy="254.5" r="10.5" fill="#f2bf5e" opacity="0.9"/>
<circle cx="1609.5" cy="251.9" r="3.7" fill="#f6e48c" opacity="0.8"/>
<circle cx="1787.9" cy="311.7" r="5.3" fill="#f8da7c" opacity="0.9"/>
<circle cx="1786.6" cy="310.4" r="1.9" fill="#f6e48c" opacity="0.8"/>
<circle cx="1758.1" cy="352.6" r="5.2" fill="#f5c868" opacity="0.9"/>
<circle cx="1756.9" cy="351.3" r="1.8" fill="#f6e48c" opacity="0.8"/>
<circle cx="1840.1" cy="344.8" r="9.9" fill="#f7d374" opacity="0.9"/>
<circle cx="1837.6" cy="342.3" r="3.5" fill="#f6e48c" opacity="0.8"/>
<circle cx="1633.8" cy="367.9" r="6.7" fill="#f7d374" opacity="0.9"/>
<circle cx="1632.1" cy="366.2" r="2.4" fill="#f6e48c" opacity="0.8"/>
<circle cx="1766.1" cy="343.2" r="6.3" fill="#f2bf5e" opacity="0.9"/>
<circle cx="1764.5" cy="341.6" r="2.2" fill="#f6e48c" opacity="0.8"/>
<circle cx="1741.4" cy="217.0" r="10.3" fill="url(#sK)"/>
<circle cx="1650.0" cy="244.3" r="9.6" fill="url(#sY)"/>
<circle cx="1673.2" cy="193.5" r="13.5" fill="url(#sG)"/>
<circle cx="1790.4" cy="203.0" r="9.7" fill="url(#sY)"/>
<circle cx="1785.8" cy="163.6" r="10.9" fill="url(#sY)"/>
<circle cx="1706.7" cy="129.2" r="8.9" fill="url(#sY)"/>
<circle cx="1635.1" cy="170.5" r="10.1" fill="url(#sK)"/>
<circle cx="1611.0" cy="205.9" r="12.8" fill="url(#sG)"/>
<circle cx="1742.5" cy="180.5" r="12.6" fill="url(#sG)"/>
<circle cx="1634.5" cy="138.7" r="9.6" fill="url(#sY)"/>
<circle cx="1727.1" cy="201.4" r="10.2" fill="url(#sK)"/>
<circle cx="1843.2" cy="153.9" r="9.7" fill="url(#sY)"/>
<circle cx="1667.5" cy="241.6" r="12.3" fill="url(#sG)"/>
<circle cx="1663.7" cy="213.9" r="11.7" fill="url(#sG)"/>
<circle cx="1739.4" cy="168.1" r="10.7" fill="url(#sY)"/>
<circle cx="1693.9" cy="228.1" r="13.7" fill="url(#sG)"/>
<circle cx="1804.6" cy="133.0" r="9.0" fill="url(#sY)"/>
<circle cx="1637.7" cy="219.2" r="9.8" fill="url(#sY)"/>
<circle cx="1751.9" cy="169.2" r="8.5" fill="url(#sY)"/>
<circle cx="1602.5" cy="240.1" r="12.1" fill="url(#sG)"/>
<circle cx="1841.9" cy="179.7" r="10.0" fill="url(#sY)"/>
<circle cx="1744.3" cy="154.1" r="10.3" fill="url(#sK)"/>
<circle cx="1615.2" cy="192.8" r="9.8" fill="url(#sY)"/>
<circle cx="1597.6" cy="138.6" r="9.7" fill="url(#sY)"/>
<circle cx="1767.0" cy="203.9" r="11.1" fill="url(#sG)"/>
<circle cx="1840.6" cy="201.4" r="10.3" fill="url(#sY)"/>
<circle cx="1757.4" cy="178.7" r="9.7" fill="url(#sY)"/>
<circle cx="1658.0" cy="126.3" r="10.2" fill="url(#sY)"/>
<circle cx="1823.1" cy="144.9" r="9.4" fill="url(#sK)"/>
<circle cx="1843.0" cy="240.4" r="9.1" fill="url(#sY)"/>
<circle cx="1673.6" cy="182.8" r="10.3" fill="url(#sK)"/>
<circle cx="1715.1" cy="169.3" r="10.5" fill="url(#sY)"/>
<circle cx="1666.2" cy="164.3" r="11.8" fill="url(#sG)"/>
<circle cx="1809.3" cy="229.9" r="10.4" fill="url(#sK)"/>
<circle cx="1828.5" cy="204.9" r="10.1" fill="url(#sY)"/>
<circle cx="1637.4" cy="238.6" r="9.6" fill="url(#sY)"/>
<circle cx="1685.7" cy="156.3" r="12.7" fill="url(#sG)"/>
<circle cx="1819.6" cy="130.7" r="8.5" fill="url(#sK)"/>
<circle cx="1646.4" cy="179.9" r="10.4" fill="url(#sY)"/>
<circle cx="1649.5" cy="142.2" r="9.5" fill="url(#sY)"/>
<circle cx="1835.5" cy="127.2" r="9.9" fill="url(#sY)"/>
<circle cx="1805.4" cy="189.5" r="9.4" fill="url(#sY)"/>
<circle cx="1766.4" cy="144.2" r="11.0" fill="url(#sG)"/>
<circle cx="1734.0" cy="142.3" r="9.4" fill="url(#sK)"/>
<circle cx="1808.1" cy="219.7" r="11.0" fill="url(#sG)"/>
<circle cx="1754.8" cy="150.5" r="10.0" fill="url(#sY)"/>
<circle cx="1792.7" cy="114.6" r="9.5" fill="url(#sY)"/>
<circle cx="1796.4" cy="176.3" r="11.0" fill="url(#sY)"/>
<circle cx="1710.4" cy="227.6" r="8.9" fill="url(#sY)"/>
<circle cx="1789.4" cy="150.7" r="10.9" fill="url(#sY)"/>
<circle cx="1708.7" cy="157.3" r="10.8" fill="url(#sY)"/>
<circle cx="1736.4" cy="188.9" r="12.7" fill="url(#sG)"/>
<circle cx="1721.5" cy="192.9" r="10.1" fill="url(#sK)"/>
<circle cx="1648.7" cy="227.9" r="12.1" fill="url(#sG)"/>
<circle cx="1629.7" cy="131.9" r="12.6" fill="url(#sG)"/>
<circle cx="1676.4" cy="126.3" r="8.7" fill="url(#sY)"/>
<circle cx="1695.6" cy="118.3" r="12.5" fill="url(#sG)"/>
<circle cx="1728.9" cy="227.8" r="8.7" fill="url(#sY)"/>
<circle cx="1814.3" cy="238.8" r="13.3" fill="url(#sG)"/>
<circle cx="1813.6" cy="202.8" r="10.7" fill="url(#sY)"/>
<circle cx="1751.8" cy="243.1" r="8.9" fill="url(#sY)"/>
<circle cx="1682.0" cy="114.2" r="9.4" fill="url(#sY)"/>
<circle cx="1703.3" cy="195.3" r="11.6" fill="url(#sG)"/>
<circle cx="1730.0" cy="241.4" r="12.4" fill="url(#sG)"/>
<circle cx="1631.3" cy="119.7" r="9.1" fill="url(#sK)"/>
<circle cx="1685.2" cy="189.6" r="12.5" fill="url(#sG)"/>
<circle cx="1650.4" cy="116.9" r="12.5" fill="url(#sG)"/>
<circle cx="1685.5" cy="165.6" r="9.3" fill="url(#sY)"/>
<circle cx="1621.6" cy="214.8" r="11.3" fill="url(#sG)"/>
<circle cx="1772.5" cy="189.9" r="9.1" fill="url(#sY)"/>
<circle cx="1807.8" cy="116.9" r="8.6" fill="url(#sK)"/>
<circle cx="1717.8" cy="140.6" r="9.9" fill="url(#sY)"/>
<circle cx="1674.9" cy="203.3" r="9.2" fill="url(#sY)"/>
<circle cx="1662.2" cy="156.4" r="10.0" fill="url(#sK)"/>
<circle cx="1761.6" cy="242.9" r="10.1" fill="url(#sY)"/>
<circle cx="1658.6" cy="202.7" r="9.0" fill="url(#sY)"/>
<circle cx="1728.8" cy="182.4" r="10.4" fill="url(#sY)"/>
<circle cx="1612.4" cy="133.3" r="8.7" fill="url(#sY)"/>
<circle cx="1748.3" cy="119.2" r="8.7" fill="url(#sY)"/>
<circle cx="1787.4" cy="187.8" r="9.7" fill="url(#sY)"/>
<circle cx="1806.7" cy="150.1" r="10.0" fill="url(#sY)"/>
<circle cx="1773.2" cy="243.6" r="10.8" fill="url(#sY)"/>
<circle cx="1606.8" cy="156.8" r="13.2" fill="url(#sG)"/>
<circle cx="1830.3" cy="225.8" r="11.7" fill="url(#sG)"/>
<circle cx="1631.3" cy="180.0" r="11.5" fill="url(#sG)"/>
<circle cx="1795.3" cy="226.7" r="11.1" fill="url(#sG)"/>
<circle cx="1779.6" cy="226.5" r="10.8" fill="url(#sY)"/>
<circle cx="1790.6" cy="214.5" r="11.3" fill="url(#sG)"/>
<circle cx="1701.2" cy="243.6" r="9.2" fill="url(#sY)"/>
<circle cx="1629.7" cy="228.9" r="12.2" fill="url(#sG)"/>
<circle cx="1804.6" cy="169.9" r="12.2" fill="url(#sG)"/>
<circle cx="1737.3" cy="126.0" r="11.3" fill="url(#sG)"/>
<circle cx="1619.5" cy="137.9" r="13.5" fill="url(#sG)"/>
<circle cx="1665.9" cy="142.0" r="9.9" fill="url(#sK)"/>
<circle cx="1652.4" cy="215.4" r="13.5" fill="url(#sG)"/>
<circle cx="1686.8" cy="218.7" r="8.9" fill="url(#sY)"/>
<circle cx="1615.3" cy="164.9" r="10.4" fill="url(#sK)"/>
<circle cx="1696.1" cy="203.2" r="9.4" fill="url(#sK)"/>
<circle cx="1780.6" cy="208.5" r="9.2" fill="url(#sK)"/>
<circle cx="1778.7" cy="115.0" r="9.5" fill="url(#sY)"/>
<circle cx="1646.0" cy="169.3" r="13.3" fill="url(#sG)"/>
<circle cx="1707.7" cy="177.9" r="10.5" fill="url(#sY)"/>
<circle cx="1713.7" cy="243.2" r="9.2" fill="url(#sY)"/>
<circle cx="1803.4" cy="142.5" r="9.0" fill="url(#sY)"/>
<circle cx="1722.3" cy="221.1" r="9.6" fill="url(#sK)"/>
<circle cx="1600.1" cy="219.3" r="9.1" fill="url(#sK)"/>
<circle cx="1746.8" cy="226.7" r="9.4" fill="url(#sY)"/>
<circle cx="1714.0" cy="112.4" r="8.9" fill="url(#sK)"/>
<circle cx="1758.2" cy="229.9" r="10.4" fill="url(#sY)"/>
<circle cx="1646.9" cy="206.4" r="9.9" fill="url(#sY)"/>
<circle cx="1730.8" cy="155.9" r="8.6" fill="url(#sK)"/>
<circle cx="1698.2" cy="166.1" r="12.9" fill="url(#sG)"/>
<circle cx="1654.4" cy="192.6" r="12.6" fill="url(#sG)"/>
<circle cx="1824.6" cy="179.5" r="13.1" fill="url(#sG)"/>
<circle cx="1733.9" cy="115.6" r="8.8" fill="url(#sY)"/>
<circle cx="1617.9" cy="119.2" r="11.8" fill="url(#sG)"/>
<circle cx="1769.5" cy="131.2" r="8.8" fill="url(#sY)"/>
<circle cx="1756.2" cy="139.2" r="10.1" fill="url(#sY)"/>
<circle cx="1798.3" cy="238.4" r="10.6" fill="url(#sY)"/>
<circle cx="1826.6" cy="238.7" r="9.6" fill="url(#sY)"/>
<circle cx="1823.2" cy="187.9" r="11.2" fill="url(#sG)"/>
<circle cx="1694.0" cy="183.2" r="8.9" fill="url(#sY)"/>
<circle cx="1602.9" cy="189.7" r="9.3" fill="url(#sK)"/>
<circle cx="1773.1" cy="183.1" r="13.4" fill="url(#sG)"/>
<circle cx="1663.6" cy="182.8" r="9.2" fill="url(#sY)"/>
<circle cx="1641.3" cy="130.9" r="11.4" fill="url(#sG)"/>
<circle cx="1790.2" cy="133.6" r="13.1" fill="url(#sG)"/>
<circle cx="1611.0" cy="230.5" r="9.7" fill="url(#sY)"/>
<circle cx="1677.4" cy="232.2" r="10.7" fill="url(#sY)"/>
<circle cx="1699.6" cy="215.8" r="10.9" fill="url(#sY)"/>
<circle cx="1719.0" cy="128.8" r="10.7" fill="url(#sY)"/>
<circle cx="1690.3" cy="128.3" r="9.8" fill="url(#sK)"/>
<circle cx="1698.3" cy="153.8" r="13.0" fill="url(#sG)"/>
<circle cx="1838.7" cy="144.2" r="12.7" fill="url(#sG)"/>
<circle cx="1827.4" cy="155.7" r="13.8" fill="url(#sG)"/>
<circle cx="1825.5" cy="219.4" r="13.2" fill="url(#sG)"/>
<circle cx="1662.2" cy="228.9" r="13.4" fill="url(#sG)"/>
<circle cx="1615.6" cy="238.3" r="10.3" fill="url(#sY)"/>
<circle cx="1625.2" cy="150.9" r="9.4" fill="url(#sY)"/>
<circle cx="1767.8" cy="167.4" r="10.2" fill="url(#sK)"/>
<circle cx="1772.9" cy="157.4" r="11.9" fill="url(#sG)"/>
<circle cx="1842.0" cy="187.7" r="11.1" fill="url(#sG)"/>
<circle cx="1762.3" cy="118.9" r="9.5" fill="url(#sY)"/>
<circle cx="1710.6" cy="202.5" r="10.0" fill="url(#sY)"/>
<circle cx="1634.1" cy="189.8" r="11.2" fill="url(#sG)"/>
<circle cx="1643.7" cy="152.7" r="10.2" fill="url(#sY)"/>
<circle cx="1818.1" cy="166.7" r="13.3" fill="url(#sG)"/>
<circle cx="1841.0" cy="217.1" r="9.6" fill="url(#sY)"/>
<circle cx="1602.3" cy="114.0" r="9.2" fill="url(#sY)"/>
<circle cx="1687.2" cy="239.7" r="8.6" fill="url(#sY)"/>
<circle cx="1679.6" cy="142.1" r="11.0" fill="url(#sY)"/>
<circle cx="1768.0" cy="218.5" r="10.4" fill="url(#sY)"/>
<circle cx="1811.3" cy="180.1" r="11.2" fill="url(#sG)"/>
<circle cx="1755.9" cy="213.9" r="12.5" fill="url(#sG)"/>
<circle cx="1745.6" cy="206.5" r="14.0" fill="url(#sG)"/>
<circle cx="1663.9" cy="113.6" r="14.0" fill="url(#sG)"/>
<circle cx="1703.9" cy="140.9" r="8.9" fill="url(#sY)"/>
<circle cx="1606.2" cy="180.8" r="9.3" fill="url(#sY)"/>
<circle cx="1827.1" cy="116.1" r="9.7" fill="url(#sY)"/>
<circle cx="1791.6" cy="139.2" r="11.0" fill="url(#sY)"/>
<circle cx="1629.4" cy="206.6" r="8.9" fill="url(#sK)"/>
<circle cx="1834.7" cy="169.2" r="12.4" fill="url(#sG)"/>
<circle cx="1753.1" cy="189.9" r="13.3" fill="url(#sG)"/>
<circle cx="1759.7" cy="129.5" r="8.5" fill="url(#sY)"/>
<circle cx="1603.4" cy="168.9" r="10.4" fill="url(#sK)"/>
</g>
<path d="M1607.4,66 L1607.4,107 A114.29999999999995,40 0 0 0 1836.0,107 L1836.0,66 Z" fill="url(#capSide)"/>
<ellipse cx="1721.7" cy="65.6" rx="114.3" ry="39" fill="#559dca"/>
<path d="M1609.4,70 A112.29999999999995,36 0 0 0 1834.0,70" fill="none" stroke="#7cc2e6" stroke-width="1.6"/>
<path d="M1611.4,66 A110.29999999999995,36.5 0 0 1 1832.0,66" fill="none" stroke="#72b8e0" stroke-width="1.3"/>
<path d="M1680.3,50 L1680.3,64 A41.6,10 0 0 0 1763.5,64 L1763.5,50 Z" fill="url(#termSide)"/>
<ellipse cx="1721.9" cy="50" rx="41.6" ry="9.5" fill="#e4e0df"/>
<path d="M1684,56 A39,8 0 0 0 1760,56" stroke="#f6f4f4" stroke-width="1.5" fill="none"/>
<path d="M1706,46 L1706,49 A14,4.5 0 0 0 1734,49 L1734,46 Z" fill="#d8d2d0"/>
<ellipse cx="1720" cy="46" rx="14" ry="4.5" fill="#f4f2f2"/>
<ellipse cx="1623" cy="178" rx="17" ry="27" fill="none" stroke="#3f8fcc" stroke-width="3.6" stroke-dasharray="0.1 4.9" stroke-linecap="round"/>
<defs><clipPath id="clipZ"><ellipse cx="1464.2" cy="234.0" rx="118.3" ry="116"/></clipPath></defs>
<g clip-path="url(#clipZ)">
<rect x="1344.7" y="114.5" width="239.0" height="239.0" fill="#4b8e3f"/>
<path d="M1534,110 C1531,140 1527,168 1519,192 C1511,212 1500,232 1487.5,247.2 C1500,244 1511,247 1518,254 C1530,266 1541,287 1547,305 L1551,330 L1600,340 L1600,100 Z" fill="#f2c465"/>
<path d="M1534,110 C1531,140 1527,168 1519,192 C1511,212 1500,232 1487.5,247.2" stroke="#6aaa50" stroke-width="2" fill="none"/>
<path d="M1487.5,247.2 C1475,262 1462,273 1445,287 C1425,303 1405,316 1385,327 L1360,345 L1400,380 L1570,380 L1551,330 L1547,305 C1541,287 1530,266 1518,254 C1511,247 1500,244 1487.5,247.2 Z" fill="#1b1512"/>
</g>
<ellipse cx="1464.2" cy="234.0" rx="119.2" ry="116.8" fill="none" stroke="#3f8fcc" stroke-width="3.6" stroke-dasharray="0.1 4.9" stroke-linecap="round"/>
<line x1="1531" y1="134.5" x2="1609.5" y2="151" stroke="#3f8fcc" stroke-width="3.6" stroke-dasharray="0.1 4.9" stroke-linecap="round"/>
<line x1="1585.3" y1="264" x2="1609.5" y2="236" stroke="#3f8fcc" stroke-width="3.6" stroke-dasharray="0.1 4.9" stroke-linecap="round"/>
<path d="M1504.5,161.6 C1532.3,159.9 1515.9,196.7 1545.8,196.0" stroke="#e5484d" stroke-width="3.4" fill="none" stroke-linecap="round"/>
<path d="M1553.8,196.0 L1541.8,190.0 L1543.8,196.0 L1541.8,202.0 Z" fill="#e5484d"/>
<path d="M1498.5,159.6 L1508.5,155.6 L1506.5,161.6 L1507.5,165.6 Z" fill="#e5484d"/>
<path d="M1498.0,183.0 C1526.2,181.3 1509.6,218.1 1540.0,217.4" stroke="#e5484d" stroke-width="3.4" fill="none" stroke-linecap="round"/>
<path d="M1548.0,217.4 L1536.0,211.4 L1538.0,217.4 L1536.0,223.4 Z" fill="#e5484d"/>
<path d="M1492.0,181.0 L1502.0,177.0 L1500.0,183.0 L1501.0,187.0 Z" fill="#e5484d"/>
<path d="M1485.0,197.0 C1512.6,195.3 1496.3,233.0 1526.0,232.3" stroke="#e5484d" stroke-width="3.4" fill="none" stroke-linecap="round"/>
<path d="M1534.0,232.3 L1522.0,226.3 L1524.0,232.3 L1522.0,238.3 Z" fill="#e5484d"/>
<path d="M1479.0,195.0 L1489.0,191.0 L1487.0,197.0 L1488.0,201.0 Z" fill="#e5484d"/>
<path d="M1448.6,265.0 C1477.5,263.3 1460.5,300.1 1491.7,299.4" stroke="#e5484d" stroke-width="3.4" fill="none" stroke-linecap="round"/>
<path d="M1499.7,299.4 L1487.7,293.4 L1489.7,299.4 L1487.7,305.4 Z" fill="#e5484d"/>
<path d="M1442.6,263.0 L1452.6,259.0 L1450.6,265.0 L1451.6,269.0 Z" fill="#e5484d"/>
<path d="M1427.0,276.2 C1454.9,274.5 1438.4,312.2 1468.4,311.5" stroke="#e5484d" stroke-width="3.4" fill="none" stroke-linecap="round"/>
<path d="M1476.4,311.5 L1464.4,305.5 L1466.4,311.5 L1464.4,317.5 Z" fill="#e5484d"/>
<path d="M1421.0,274.2 L1431.0,270.2 L1429.0,276.2 L1430.0,280.2 Z" fill="#e5484d"/>
<path d="M1410.4,292.0 C1438.8,290.3 1422.1,328.1 1452.6,327.4" stroke="#e5484d" stroke-width="3.4" fill="none" stroke-linecap="round"/>
<path d="M1460.6,327.4 L1448.6,321.4 L1450.6,327.4 L1448.6,333.4 Z" fill="#e5484d"/>
<path d="M1404.4,290.0 L1414.4,286.0 L1412.4,292.0 L1413.4,296.0 Z" fill="#e5484d"/>
<text x="1447.4" y="181.0" font-size="28.5" font-family='"Liberation Sans", sans-serif' fill="#e5484d" stroke="#e5484d" stroke-width="0.16" font-weight="bold" >Li<tspan font-size="17" dy="-10">+</tspan></text>
<text x="1541.5" y="250.0" font-size="28.5" font-family='"Liberation Sans", sans-serif' fill="#e5484d" stroke="#e5484d" stroke-width="0.16" font-weight="bold" >Li<tspan font-size="17" dy="-10">+</tspan></text>
<text x="1382.5" y="275.5" font-size="39" font-family='"Liberation Sans", sans-serif' fill="#e5484d" stroke="#e5484d" stroke-width="0.16" font-weight="bold" >e<tspan font-size="20" dy="-16">-</tspan></text>
<text x="1474.0" y="337.0" font-size="39" font-family='"Liberation Sans", sans-serif' fill="#e5484d" stroke="#e5484d" stroke-width="0.16" font-weight="bold" >e<tspan font-size="20" dy="-16">-</tspan></text>
<defs><radialGradient id="lG" cx="0.6" cy="0.3" r="0.8"><stop offset="0" stop-color="#aee8ae"/><stop offset="0.15" stop-color="#49b04c"/><stop offset="0.6" stop-color="#2b8f33"/><stop offset="1" stop-color="#0e4a14"/></radialGradient><radialGradient id="lY" cx="0.45" cy="0.45" r="0.6"><stop offset="0" stop-color="#fbe38e"/><stop offset="0.6" stop-color="#f8d466"/><stop offset="1" stop-color="#f1c250"/></radialGradient><radialGradient id="lK" cx="0.6" cy="0.3" r="0.75"><stop offset="0" stop-color="#888"/><stop offset="0.2" stop-color="#222"/><stop offset="1" stop-color="#000"/></radialGradient></defs>
<circle cx="1405.0" cy="381.0" r="16" fill="url(#lG)" stroke="none" stroke-width="1" />
<circle cx="1477.0" cy="383.0" r="11" fill="url(#lY)" stroke="none" stroke-width="1" />
<circle cx="1541.6" cy="383.0" r="11" fill="url(#lK)" stroke="none" stroke-width="1" />
<text x="1354.0" y="418.7" font-size="22" font-family='"Liberation Sans", sans-serif' fill="#111" stroke="#111" stroke-width="0.35" textLength="83.6" lengthAdjust="spacingAndGlyphs" >Cathode</text>
<text x="1453.5" y="418.7" font-size="22" font-family='"Liberation Sans", sans-serif' fill="#111" stroke="#111" stroke-width="0.35" textLength="54.5" lengthAdjust="spacingAndGlyphs" >SSEs</text>
<text x="1523.0" y="418.7" font-size="22" font-family='"Liberation Sans", sans-serif' fill="#111" stroke="#111" stroke-width="0.35" textLength="72.5" lengthAdjust="spacingAndGlyphs" >Carbon</text>
<text x="1354.0" y="99.3" font-size="19" font-family='"Liberation Sans", sans-serif' fill="#4a9acb" stroke="#4a9acb" stroke-width="0.16" font-weight="bold" textLength="228.5" lengthAdjust="spacingAndGlyphs" >Enhanced Li+/e- transfer</text>
<path d="M119.5,821.0 C119.5,799.2 119.6,714.7 119.8,690.0 C120.0,665.3 119.5,676.5 120.7,672.9 C121.9,669.3 119.3,670.8 127.0,668.6 C134.7,666.5 150.8,663.3 167.0,660.0 C183.2,656.7 205.2,652.6 224.3,648.6 C243.4,644.6 264.7,639.8 281.4,635.7 C298.1,631.7 313.2,627.3 324.3,624.3 C335.4,621.3 338.7,621.1 348.0,617.8 C357.3,614.5 369.1,608.1 380.0,604.3 C390.9,600.5 402.6,598.0 413.7,594.8 C424.8,591.6 435.6,588.3 446.5,585.0 C457.4,581.7 468.4,578.4 479.3,575.1 C490.2,571.8 501.1,568.0 512.0,565.3 C523.0,562.6 536.8,560.6 545.0,558.7 C553.2,556.8 555.8,556.2 561.3,553.8 C566.8,551.3 573.3,546.4 577.7,544.0 C582.1,541.6 586.0,540.4 587.6,539.7" fill="none" stroke="#8e1f2a" stroke-width="2.8" stroke-linecap="round" stroke-linejoin="round" />
<path d="M118.6,543.6 C118.9,545.0 119.5,549.5 120.5,552.0 C121.5,554.5 121.3,556.6 124.3,558.6 C127.3,560.6 131.5,562.6 138.6,564.3 C145.7,566.0 157.5,566.9 167.0,568.6 C176.5,570.3 181.9,571.0 195.7,574.3 C209.5,577.6 235.4,584.0 249.7,588.3 C264.0,592.6 270.5,596.7 281.4,600.0 C292.3,603.3 304.2,604.5 315.3,608.0 C326.4,611.5 337.1,616.6 348.0,621.0 C358.9,625.4 369.9,630.9 380.9,634.2 C391.8,637.5 402.8,638.6 413.7,640.8 C424.6,643.0 435.6,644.6 446.5,647.3 C457.4,650.0 468.4,653.9 479.3,657.2 C490.2,660.5 501.1,663.7 512.0,667.0 C523.0,670.3 536.8,673.9 545.0,676.9 C553.2,679.9 556.8,681.1 561.3,685.0 C565.8,688.9 569.0,692.5 572.0,700.0 C575.0,707.5 577.3,720.0 579.0,730.0 C580.7,740.0 581.1,747.0 582.0,760.0 C582.9,773.0 583.6,795.1 584.3,808.0 C585.0,820.9 585.7,832.7 586.0,837.6" fill="none" stroke="#8e1f2a" stroke-width="2.8" stroke-linecap="round" stroke-linejoin="round" />
<path d="M120.0,821.0 C120.0,795.8 120.1,697.1 120.3,670.0 C120.5,642.9 119.6,661.5 121.4,658.6 C123.2,655.8 121.4,655.5 131.4,652.9 C141.4,650.3 163.5,646.9 181.4,642.9 C199.3,638.9 221.9,633.4 238.6,628.6 C255.3,623.8 267.1,619.1 281.4,614.3 C295.7,609.5 307.7,605.4 324.3,600.0 C340.9,594.6 366.0,586.5 380.9,582.0 C395.8,577.5 402.8,576.3 413.7,573.0 C424.6,569.7 436.6,565.2 446.5,562.0 C456.4,558.8 466.2,556.4 472.8,553.8 C479.4,551.2 482.6,549.0 485.9,546.6 C489.2,544.2 491.3,540.9 492.4,539.7" fill="none" stroke="#f07a22" stroke-width="2.8" stroke-linecap="round" stroke-linejoin="round" />
<path d="M119.3,556.4 C119.6,557.3 120.2,560.5 121.0,562.0 C121.8,563.5 119.0,563.9 124.3,565.7 C129.6,567.5 143.4,570.3 152.9,572.9 C162.4,575.5 169.5,577.4 181.4,581.4 C193.3,585.4 210.0,592.3 224.3,597.1 C238.6,601.9 252.7,605.5 267.0,610.0 C281.3,614.5 296.5,620.3 310.0,624.3 C323.5,628.3 336.3,630.8 348.0,634.2 C359.7,637.7 369.1,642.4 380.0,645.0 C390.9,647.6 402.6,647.7 413.7,650.0 C424.8,652.3 438.3,655.4 446.5,658.8 C454.7,662.2 458.8,665.4 462.9,670.3 C467.0,675.2 468.6,681.4 471.0,688.0 C473.4,694.6 475.1,702.2 477.0,710.0 C478.9,717.8 480.6,724.1 482.6,735.0 C484.6,745.9 487.6,758.2 489.2,775.3 C490.8,792.4 491.9,827.2 492.4,837.6" fill="none" stroke="#f07a22" stroke-width="2.8" stroke-linecap="round" stroke-linejoin="round" />
<path d="M120.5,821.0 C120.5,794.2 120.5,688.7 120.8,660.0 C121.0,631.3 120.2,651.3 122.0,648.6 C123.8,645.9 121.5,646.2 131.4,643.6 C141.3,641.0 163.5,637.5 181.4,632.9 C199.3,628.2 221.9,621.4 238.6,615.7 C255.3,610.0 267.1,604.3 281.4,598.6 C295.7,592.9 313.2,585.6 324.3,581.4 C335.4,577.2 338.6,577.3 348.0,573.5 C357.4,569.7 372.7,562.5 380.9,558.7 C389.1,554.9 392.9,552.8 397.3,550.5 C401.7,548.2 403.8,546.8 407.1,545.0 C410.4,543.2 415.4,540.6 417.0,539.7" fill="none" stroke="#3cb5a2" stroke-width="2.8" stroke-linecap="round" stroke-linejoin="round" />
<path d="M120.0,568.6 C120.1,570.0 119.7,575.1 120.7,577.0 C121.7,578.9 123.0,579.0 126.0,580.0 C129.0,581.0 131.8,580.1 138.6,582.9 C145.4,585.7 155.1,591.5 167.0,597.0 C178.9,602.5 195.7,609.7 210.0,615.7 C224.3,621.7 238.6,627.7 252.9,632.9 C267.2,638.1 281.4,642.0 295.7,647.0 C310.0,652.0 326.7,658.1 338.6,662.9 C350.5,667.7 360.1,671.7 367.0,675.7 C373.9,679.7 376.2,683.0 380.0,687.0 C383.8,691.0 387.0,694.5 390.0,700.0 C393.0,705.5 395.7,712.5 398.0,720.0 C400.3,727.5 401.9,735.8 404.0,745.0 C406.1,754.2 408.8,764.8 410.4,775.3 C412.0,785.8 412.6,797.6 413.7,808.0 C414.8,818.4 416.4,832.7 417.0,837.6" fill="none" stroke="#3cb5a2" stroke-width="2.8" stroke-linecap="round" stroke-linejoin="round" />
<path d="M121.0,821.0 C121.0,791.7 121.1,676.4 121.2,645.0 C121.3,613.6 119.7,635.6 121.4,632.9 C123.1,630.2 121.4,631.5 131.4,628.6 C141.4,625.7 163.5,622.1 181.4,615.7 C199.3,609.3 221.9,597.6 238.6,590.0 C255.3,582.4 265.2,578.3 281.4,570.0 C297.6,561.7 326.6,545.0 335.7,540.0" fill="none" stroke="#2e58ad" stroke-width="2.8" stroke-linecap="round" stroke-linejoin="round" />
<path d="M119.3,584.3 C119.4,585.5 118.9,589.3 120.0,591.4 C121.1,593.5 122.9,595.1 126.0,597.0 C129.1,598.9 131.8,598.8 138.6,602.9 C145.4,607.0 155.1,614.5 167.0,621.4 C178.9,628.3 195.7,637.4 210.0,644.3 C224.3,651.2 242.6,658.3 252.9,662.9 C263.2,667.5 266.0,668.5 272.0,672.0 C278.0,675.5 284.0,679.3 289.0,684.0 C294.0,688.7 298.0,693.7 302.0,700.0 C306.0,706.3 309.7,714.5 313.0,722.0 C316.3,729.5 319.5,737.0 322.0,745.0 C324.5,753.0 326.4,761.7 328.0,770.0 C329.6,778.3 330.6,783.7 331.7,795.0 C332.8,806.3 333.9,830.5 334.3,837.6" fill="none" stroke="#2e58ad" stroke-width="2.8" stroke-linecap="round" stroke-linejoin="round" />
<path d="M119.8,821.0 C119.8,789.2 119.8,664.7 120.0,630.0 C120.2,595.3 120.0,616.6 120.7,612.9 C121.4,609.2 122.2,609.4 124.0,608.0 C125.8,606.6 125.4,606.8 131.4,604.3 C137.4,601.8 149.3,598.6 160.0,592.9 C170.7,587.2 181.2,578.9 195.7,570.0 C210.2,561.1 238.4,544.4 247.0,539.3" fill="none" stroke="#5b2d9a" stroke-width="2.8" stroke-linecap="round" stroke-linejoin="round" />
<path d="M120.7,610.0 C120.8,611.7 120.9,617.2 121.5,620.0 C122.1,622.8 119.1,621.0 124.3,627.0 C129.5,633.0 143.4,647.4 152.9,655.7 C162.4,664.0 173.1,670.3 181.4,677.0 C189.7,683.7 197.5,690.5 202.9,695.7 C208.3,700.9 210.8,703.6 214.0,708.0 C217.2,712.4 219.3,716.7 222.0,722.0 C224.7,727.3 227.7,733.7 230.0,740.0 C232.3,746.3 234.3,752.5 236.0,760.0 C237.7,767.5 238.8,777.0 240.0,785.0 C241.2,793.0 242.1,799.2 243.0,808.0 C243.9,816.8 245.2,832.7 245.7,837.6" fill="none" stroke="#5b2d9a" stroke-width="2.8" stroke-linecap="round" stroke-linejoin="round" />
<rect x="117.4" y="503.0" width="511.2" height="352.0" fill="none" stroke="#2b2626" stroke-width="2" />
<line x1="202.6" y1="855.0" x2="202.6" y2="849.0" stroke="#2b2626" stroke-width="1.6" />
<line x1="287.8" y1="855.0" x2="287.8" y2="849.0" stroke="#2b2626" stroke-width="1.6" />
<line x1="373.0" y1="855.0" x2="373.0" y2="849.0" stroke="#2b2626" stroke-width="1.6" />
<line x1="458.2" y1="855.0" x2="458.2" y2="849.0" stroke="#2b2626" stroke-width="1.6" />
<line x1="543.4" y1="855.0" x2="543.4" y2="849.0" stroke="#2b2626" stroke-width="1.6" />
<line x1="160.0" y1="855.0" x2="160.0" y2="851.5" stroke="#2b2626" stroke-width="1.2" />
<line x1="245.2" y1="855.0" x2="245.2" y2="851.5" stroke="#2b2626" stroke-width="1.2" />
<line x1="330.4" y1="855.0" x2="330.4" y2="851.5" stroke="#2b2626" stroke-width="1.2" />
<line x1="415.6" y1="855.0" x2="415.6" y2="851.5" stroke="#2b2626" stroke-width="1.2" />
<line x1="500.8" y1="855.0" x2="500.8" y2="851.5" stroke="#2b2626" stroke-width="1.2" />
<line x1="586.0" y1="855.0" x2="586.0" y2="851.5" stroke="#2b2626" stroke-width="1.2" />
<line x1="117.4" y1="780.7" x2="123.4" y2="780.7" stroke="#2b2626" stroke-width="1.6" />
<line x1="117.4" y1="706.4" x2="123.4" y2="706.4" stroke="#2b2626" stroke-width="1.6" />
<line x1="117.4" y1="632.1" x2="123.4" y2="632.1" stroke="#2b2626" stroke-width="1.6" />
<line x1="117.4" y1="557.8" x2="123.4" y2="557.8" stroke="#2b2626" stroke-width="1.6" />
<line x1="117.4" y1="817.8" x2="120.9" y2="817.8" stroke="#2b2626" stroke-width="1.2" />
<line x1="117.4" y1="743.5" x2="120.9" y2="743.5" stroke="#2b2626" stroke-width="1.2" />
<line x1="117.4" y1="669.2" x2="120.9" y2="669.2" stroke="#2b2626" stroke-width="1.2" />
<line x1="117.4" y1="595.0" x2="120.9" y2="595.0" stroke="#2b2626" stroke-width="1.2" />
<line x1="117.4" y1="520.7" x2="120.9" y2="520.7" stroke="#2b2626" stroke-width="1.2" />
<text x="111.9" y="880.5" font-size="19.5" font-family='"Liberation Sans", sans-serif' fill="#1e1818" stroke="#1e1818" stroke-width="0.16" text-anchor="middle" font-weight="bold" >0</text>
<text x="197.1" y="880.5" font-size="19.5" font-family='"Liberation Sans", sans-serif' fill="#1e1818" stroke="#1e1818" stroke-width="0.16" text-anchor="middle" font-weight="bold" >40</text>
<text x="282.3" y="880.5" font-size="19.5" font-family='"Liberation Sans", sans-serif' fill="#1e1818" stroke="#1e1818" stroke-width="0.16" text-anchor="middle" font-weight="bold" >80</text>
<text x="367.5" y="880.5" font-size="19.5" font-family='"Liberation Sans", sans-serif' fill="#1e1818" stroke="#1e1818" stroke-width="0.16" text-anchor="middle" font-weight="bold" >120</text>
<text x="452.7" y="880.5" font-size="19.5" font-family='"Liberation Sans", sans-serif' fill="#1e1818" stroke="#1e1818" stroke-width="0.16" text-anchor="middle" font-weight="bold" >160</text>
<text x="537.9" y="880.5" font-size="19.5" font-family='"Liberation Sans", sans-serif' fill="#1e1818" stroke="#1e1818" stroke-width="0.16" text-anchor="middle" font-weight="bold" >200</text>
<text x="623.1" y="880.5" font-size="19.5" font-family='"Liberation Sans", sans-serif' fill="#1e1818" stroke="#1e1818" stroke-width="0.16" text-anchor="middle" font-weight="bold" >240</text>
<text x="107.5" y="861.7" font-size="19.5" font-family='"Liberation Sans", sans-serif' fill="#1e1818" stroke="#1e1818" stroke-width="0.16" text-anchor="end" font-weight="bold" >2.0</text>
<text x="107.5" y="787.4" font-size="19.5" font-family='"Liberation Sans", sans-serif' fill="#1e1818" stroke="#1e1818" stroke-width="0.16" text-anchor="end" font-weight="bold" >2.4</text>
<text x="107.5" y="713.1" font-size="19.5" font-family='"Liberation Sans", sans-serif' fill="#1e1818" stroke="#1e1818" stroke-width="0.16" text-anchor="end" font-weight="bold" >2.8</text>
<text x="107.5" y="638.8" font-size="19.5" font-family='"Liberation Sans", sans-serif' fill="#1e1818" stroke="#1e1818" stroke-width="0.16" text-anchor="end" font-weight="bold" >3.2</text>
<text x="107.5" y="564.5" font-size="19.5" font-family='"Liberation Sans", sans-serif' fill="#1e1818" stroke="#1e1818" stroke-width="0.16" text-anchor="end" font-weight="bold" >3.6</text>
<text x="125.5" y="525.6" font-size="23" font-family='"Liberation Sans", sans-serif' fill="#111" stroke="#111" stroke-width="0.35" textLength="216.5" lengthAdjust="spacingAndGlyphs" >Ni90/LIC/LPSC/Li-n</text>
<text x="162.7" y="838.8" font-size="23.5" font-family='"Liberation Sans", sans-serif' fill="#5b2d9a" stroke="#5b2d9a" stroke-width="0.35" textLength="69.0" lengthAdjust="spacingAndGlyphs" >−30 <tspan font-weight="normal">°</tspan><tspan font-family='"Liberation Serif", serif' font-weight="normal" dx="-2.8">C</tspan></text>
<text x="256.0" y="838.8" font-size="23.5" font-family='"Liberation Sans", sans-serif' fill="#2e58ad" stroke="#2e58ad" stroke-width="0.35" textLength="70.8" lengthAdjust="spacingAndGlyphs" >−30 <tspan font-weight="normal">°</tspan><tspan font-family='"Liberation Serif", serif' font-weight="normal" dx="-2.8">C</tspan></text>
<text x="343.0" y="838.8" font-size="23.5" font-family='"Liberation Sans", sans-serif' fill="#3cb5a2" stroke="#3cb5a2" stroke-width="0.35" textLength="69.0" lengthAdjust="spacingAndGlyphs" >−30 <tspan font-weight="normal">°</tspan><tspan font-family='"Liberation Serif", serif' font-weight="normal" dx="-2.8">C</tspan></text>
<text x="443.0" y="838.8" font-size="23.5" font-family='"Liberation Sans", sans-serif' fill="#f07a22" stroke="#f07a22" stroke-width="0.35" textLength="43.0" lengthAdjust="spacingAndGlyphs" >0 <tspan font-weight="normal">°</tspan><tspan font-family='"Liberation Serif", serif' font-weight="normal" dx="-2.8">C</tspan></text>
<text x="522.0" y="838.8" font-size="23.5" font-family='"Liberation Sans", sans-serif' fill="#8e1f2a" stroke="#8e1f2a" stroke-width="0.35" textLength="57.4" lengthAdjust="spacingAndGlyphs" >30 <tspan font-weight="normal">°</tspan><tspan font-family='"Liberation Serif", serif' font-weight="normal" dx="-2.8">C</tspan></text>
<text x="380.5" y="906.3" font-size="29.5" font-family='"Liberation Sans", sans-serif' fill="#111" stroke="#111" stroke-width="0.35" text-anchor="middle" textLength="346.8" lengthAdjust="spacingAndGlyphs" >Specific capacity/(mAh/g)</text>
<text x="60.3" y="678.5" font-size="29" font-family='"Liberation Sans", sans-serif' fill="#111" stroke="#111" stroke-width="0.35" text-anchor="middle" textLength="269.0" lengthAdjust="spacingAndGlyphs" transform="rotate(-90 60.3 678.5)" >Voltage (<tspan font-style="italic">vs.</tspan> Li-In)/V</text>
<text x="25.4" y="512.5" font-size="37" font-family='"Liberation Sans", sans-serif' fill="#1a1414" stroke="#1a1414" stroke-width="0.35" >(d)</text>
<line x1="829.3" y1="505.5" x2="829.3" y2="859.3" stroke="#8a6868" stroke-width="1.6" stroke-dasharray="5 3.5"/>
<line x1="915.5" y1="505.5" x2="915.5" y2="859.3" stroke="#8a6868" stroke-width="1.6" stroke-dasharray="5 3.5"/>
<line x1="1001.7" y1="586.3" x2="1001.7" y2="859.3" stroke="#8a6868" stroke-width="1.6" stroke-dasharray="5 3.5"/>
<line x1="1087.9" y1="586.3" x2="1087.9" y2="859.3" stroke="#8a6868" stroke-width="1.6" stroke-dasharray="5 3.5"/>
<line x1="1174.1" y1="586.3" x2="1174.1" y2="859.3" stroke="#8a6868" stroke-width="1.6" stroke-dasharray="5 3.5"/>
<polyline points="770.4,554.5 799.2,576.3 827.9,573.8 856.6,611.0 885.4,634.1 914.1,634.1 942.8,668.8 971.5,680.3 1000.3,680.3 1029.0,711.1 1057.7,729.1 1086.5,729.1 1115.2,770.2 1143.9,783.0 1172.7,783.0 1201.4,661.1 1230.1,569.9 1258.8,569.9" fill="none" stroke="#a8303a" stroke-width="2.2" stroke-linejoin="round" stroke-linecap="round" />
<polyline points="770.4,585.3 799.2,577.6 827.9,575.0 856.6,635.4 885.4,634.1 914.1,635.4 942.8,682.9 971.5,680.3 1000.3,680.3 1029.0,730.4 1057.7,730.4 1086.5,729.1 1115.2,785.6 1143.9,784.3 1172.7,783.0 1201.4,572.5 1230.1,573.8 1258.8,575.0" fill="none" stroke="#a8303a" stroke-width="2.2" stroke-linejoin="round" stroke-linecap="round" />
<circle cx="770.4" cy="554.5" r="5.3" fill="#fff" stroke="#a8303a" stroke-width="1.6" />
<circle cx="799.2" cy="576.3" r="5.3" fill="#fff" stroke="#a8303a" stroke-width="1.6" />
<circle cx="827.9" cy="573.8" r="5.3" fill="#fff" stroke="#a8303a" stroke-width="1.6" />
<circle cx="856.6" cy="611.0" r="5.3" fill="#fff" stroke="#a8303a" stroke-width="1.6" />
<circle cx="885.4" cy="634.1" r="5.3" fill="#fff" stroke="#a8303a" stroke-width="1.6" />
<circle cx="914.1" cy="634.1" r="5.3" fill="#fff" stroke="#a8303a" stroke-width="1.6" />
<circle cx="942.8" cy="668.8" r="5.3" fill="#fff" stroke="#a8303a" stroke-width="1.6" />
<circle cx="971.5" cy="680.3" r="5.3" fill="#fff" stroke="#a8303a" stroke-width="1.6" />
<circle cx="1000.3" cy="680.3" r="5.3" fill="#fff" stroke="#a8303a" stroke-width="1.6" />
<circle cx="1029.0" cy="711.1" r="5.3" fill="#fff" stroke="#a8303a" stroke-width="1.6" />
<circle cx="1057.7" cy="729.1" r="5.3" fill="#fff" stroke="#a8303a" stroke-width="1.6" />
<circle cx="1086.5" cy="729.1" r="5.3" fill="#fff" stroke="#a8303a" stroke-width="1.6" />
<circle cx="1115.2" cy="770.2" r="5.3" fill="#fff" stroke="#a8303a" stroke-width="1.6" />
<circle cx="1143.9" cy="783.0" r="5.3" fill="#fff" stroke="#a8303a" stroke-width="1.6" />
<circle cx="1172.7" cy="783.0" r="5.3" fill="#fff" stroke="#a8303a" stroke-width="1.6" />
<circle cx="1201.4" cy="661.1" r="5.3" fill="#fff" stroke="#a8303a" stroke-width="1.6" />
<circle cx="1230.1" cy="569.9" r="5.3" fill="#fff" stroke="#a8303a" stroke-width="1.6" />
<circle cx="1258.8" cy="569.9" r="5.3" fill="#fff" stroke="#a8303a" stroke-width="1.6" />
<circle cx="770.4" cy="585.3" r="5.6" fill="url(#gRedE)" stroke="none" stroke-width="1" />
<circle cx="799.2" cy="577.6" r="5.6" fill="url(#gRedE)" stroke="none" stroke-width="1" />
<circle cx="827.9" cy="575.0" r="5.6" fill="url(#gRedE)" stroke="none" stroke-width="1" />
<circle cx="856.6" cy="635.4" r="5.6" fill="url(#gRedE)" stroke="none" stroke-width="1" />
<circle cx="885.4" cy="634.1" r="5.6" fill="url(#gRedE)" stroke="none" stroke-width="1" />
<circle cx="914.1" cy="635.4" r="5.6" fill="url(#gRedE)" stroke="none" stroke-width="1" />
<circle cx="942.8" cy="682.9" r="5.6" fill="url(#gRedE)" stroke="none" stroke-width="1" />
<circle cx="971.5" cy="680.3" r="5.6" fill="url(#gRedE)" stroke="none" stroke-width="1" />
<circle cx="1000.3" cy="680.3" r="5.6" fill="url(#gRedE)" stroke="none" stroke-width="1" />
<circle cx="1029.0" cy="730.4" r="5.6" fill="url(#gRedE)" stroke="none" stroke-width="1" />
<circle cx="1057.7" cy="730.4" r="5.6" fill="url(#gRedE)" stroke="none" stroke-width="1" />
<circle cx="1086.5" cy="729.1" r="5.6" fill="url(#gRedE)" stroke="none" stroke-width="1" />
<circle cx="1115.2" cy="785.6" r="5.6" fill="url(#gRedE)" stroke="none" stroke-width="1" />
<circle cx="1143.9" cy="784.3" r="5.6" fill="url(#gRedE)" stroke="none" stroke-width="1" />
<circle cx="1172.7" cy="783.0" r="5.6" fill="url(#gRedE)" stroke="none" stroke-width="1" />
<circle cx="1201.4" cy="572.5" r="5.6" fill="url(#gRedE)" stroke="none" stroke-width="1" />
<circle cx="1230.1" cy="573.8" r="5.6" fill="url(#gRedE)" stroke="none" stroke-width="1" />
<circle cx="1258.8" cy="575.0" r="5.6" fill="url(#gRedE)" stroke="none" stroke-width="1" />
<rect x="741.7" y="505.5" width="546.9" height="353.8" fill="none" stroke="#2b2626" stroke-width="2" />
<line x1="827.9" y1="859.3" x2="827.9" y2="853.3" stroke="#2b2626" stroke-width="1.6" />
<line x1="914.1" y1="859.3" x2="914.1" y2="853.3" stroke="#2b2626" stroke-width="1.6" />
<line x1="1000.3" y1="859.3" x2="1000.3" y2="853.3" stroke="#2b2626" stroke-width="1.6" />
<line x1="1086.5" y1="859.3" x2="1086.5" y2="853.3" stroke="#2b2626" stroke-width="1.6" />
<line x1="1172.7" y1="859.3" x2="1172.7" y2="853.3" stroke="#2b2626" stroke-width="1.6" />
<line x1="1258.8" y1="859.3" x2="1258.8" y2="853.3" stroke="#2b2626" stroke-width="1.6" />
<line x1="741.7" y1="794.6" x2="747.7" y2="794.6" stroke="#2b2626" stroke-width="1.6" />
<line x1="741.7" y1="730.4" x2="747.7" y2="730.4" stroke="#2b2626" stroke-width="1.6" />
<line x1="741.7" y1="666.2" x2="747.7" y2="666.2" stroke="#2b2626" stroke-width="1.6" />
<line x1="741.7" y1="602.0" x2="747.7" y2="602.0" stroke="#2b2626" stroke-width="1.6" />
<line x1="741.7" y1="537.8" x2="747.7" y2="537.8" stroke="#2b2626" stroke-width="1.6" />
<text x="735.7" y="880.6" font-size="19.5" font-family='"Liberation Sans", sans-serif' fill="#1e1818" stroke="#1e1818" stroke-width="0.16" text-anchor="middle" font-weight="bold" >0</text>
<text x="821.9" y="880.6" font-size="19.5" font-family='"Liberation Sans", sans-serif' fill="#1e1818" stroke="#1e1818" stroke-width="0.16" text-anchor="middle" font-weight="bold" >3</text>
<text x="908.1" y="880.6" font-size="19.5" font-family='"Liberation Sans", sans-serif' fill="#1e1818" stroke="#1e1818" stroke-width="0.16" text-anchor="middle" font-weight="bold" >6</text>
<text x="994.3" y="880.6" font-size="19.5" font-family='"Liberation Sans", sans-serif' fill="#1e1818" stroke="#1e1818" stroke-width="0.16" text-anchor="middle" font-weight="bold" >9</text>
<text x="1080.5" y="880.6" font-size="19.5" font-family='"Liberation Sans", sans-serif' fill="#1e1818" stroke="#1e1818" stroke-width="0.16" text-anchor="middle" font-weight="bold" >12</text>
<text x="1166.7" y="880.6" font-size="19.5" font-family='"Liberation Sans", sans-serif' fill="#1e1818" stroke="#1e1818" stroke-width="0.16" text-anchor="middle" font-weight="bold" >15</text>
<text x="1252.8" y="880.6" font-size="19.5" font-family='"Liberation Sans", sans-serif' fill="#1e1818" stroke="#1e1818" stroke-width="0.16" text-anchor="middle" font-weight="bold" >18</text>
<text x="732.8" y="801.3" font-size="19.5" font-family='"Liberation Sans", sans-serif' fill="#1e1818" stroke="#1e1818" stroke-width="0.16" text-anchor="end" font-weight="bold" >50</text>
<text x="732.8" y="737.1" font-size="19.5" font-family='"Liberation Sans", sans-serif' fill="#1e1818" stroke="#1e1818" stroke-width="0.16" text-anchor="end" font-weight="bold" >100</text>
<text x="732.8" y="672.9" font-size="19.5" font-family='"Liberation Sans", sans-serif' fill="#1e1818" stroke="#1e1818" stroke-width="0.16" text-anchor="end" font-weight="bold" >150</text>
<text x="732.8" y="608.7" font-size="19.5" font-family='"Liberation Sans", sans-serif' fill="#1e1818" stroke="#1e1818" stroke-width="0.16" text-anchor="end" font-weight="bold" >200</text>
<text x="732.8" y="544.5" font-size="19.5" font-family='"Liberation Sans", sans-serif' fill="#1e1818" stroke="#1e1818" stroke-width="0.16" text-anchor="end" font-weight="bold" >250</text>
<text x="1000.4" y="529.6" font-size="19.5" font-family='"Liberation Sans", sans-serif' fill="#2a2222" stroke="#2a2222" stroke-width="0.16" font-weight="bold" textLength="184.4" lengthAdjust="spacingAndGlyphs" >Ni90/LIC/LPSC/Li-In</text>
<line x1="1000.4" y1="548.0" x2="1044.7" y2="548.0" stroke="#a8303a" stroke-width="2.2" />
<circle cx="1022.8" cy="548.0" r="5.3" fill="#fff" stroke="#a8303a" stroke-width="1.6" />
<text x="1051.0" y="554.4" font-size="19.5" font-family='"Liberation Sans", sans-serif' fill="#2a2222" stroke="#2a2222" stroke-width="0.16" font-weight="bold" >charge</text>
<line x1="1000.4" y1="574.0" x2="1044.7" y2="574.0" stroke="#a8303a" stroke-width="2.2" />
<circle cx="1022.8" cy="574.0" r="5.6" fill="url(#gRedE)" stroke="none" stroke-width="1" />
<text x="1051.0" y="580.5" font-size="19.5" font-family='"Liberation Sans", sans-serif' fill="#2a2222" stroke="#2a2222" stroke-width="0.16" font-weight="bold" >discharge</text>
<text x="771.8" y="618.2" font-size="22.5" font-family='"Liberation Sans", sans-serif' fill="#111" stroke="#111" stroke-width="0.35" textLength="53.2" lengthAdjust="spacingAndGlyphs" >30 <tspan font-weight="normal">°</tspan><tspan font-family='"Liberation Serif", serif' font-weight="normal" dx="-2.7">C</tspan></text>
<text x="856.9" y="667.9" font-size="22.5" font-family='"Liberation Sans", sans-serif' fill="#111" stroke="#111" stroke-width="0.35" textLength="40.0" lengthAdjust="spacingAndGlyphs" >0 <tspan font-weight="normal">°</tspan><tspan font-family='"Liberation Serif", serif' font-weight="normal" dx="-2.7">C</tspan></text>
<text x="926.0" y="715.7" font-size="22.5" font-family='"Liberation Sans", sans-serif' fill="#111" stroke="#111" stroke-width="0.35" textLength="66.0" lengthAdjust="spacingAndGlyphs" >−10 <tspan font-weight="normal">°</tspan><tspan font-family='"Liberation Serif", serif' font-weight="normal" dx="-2.7">C</tspan></text>
<text x="1005.8" y="771.4" font-size="22.5" font-family='"Liberation Sans", sans-serif' fill="#111" stroke="#111" stroke-width="0.35" textLength="66.0" lengthAdjust="spacingAndGlyphs" >−20 <tspan font-weight="normal">°</tspan><tspan font-family='"Liberation Serif", serif' font-weight="normal" dx="-2.7">C</tspan></text>
<text x="1105.0" y="816.8" font-size="22.5" font-family='"Liberation Sans", sans-serif' fill="#111" stroke="#111" stroke-width="0.35" textLength="66.0" lengthAdjust="spacingAndGlyphs" >−30 <tspan font-weight="normal">°</tspan><tspan font-family='"Liberation Serif", serif' font-weight="normal" dx="-2.7">C</tspan></text>
<text x="1222.7" y="619.0" font-size="22.5" font-family='"Liberation Sans", sans-serif' fill="#111" stroke="#111" stroke-width="0.35" textLength="53.2" lengthAdjust="spacingAndGlyphs" >30 <tspan font-weight="normal">°</tspan><tspan font-family='"Liberation Serif", serif' font-weight="normal" dx="-2.7">C</tspan></text>
<text x="1012.6" y="913.3" font-size="30" font-family='"Liberation Sans", sans-serif' fill="#111" stroke="#111" stroke-width="0.35" text-anchor="middle" textLength="188.0" lengthAdjust="spacingAndGlyphs" >Cycle number</text>
<text x="692.6" y="690.4" font-size="29.5" font-family='"Liberation Sans", sans-serif' fill="#111" stroke="#111" stroke-width="0.35" text-anchor="middle" textLength="349.0" lengthAdjust="spacingAndGlyphs" transform="rotate(-90 692.6 690.4)" >Specific capacity/(mAh/g)</text>
<text x="636.0" y="512.5" font-size="37" font-family='"Liberation Sans", sans-serif' fill="#1a1414" stroke="#1a1414" stroke-width="0.35" >(e)</text>
<g fill="#f4b0b0">
<rect x="1421.0" y="779.0" width="390.0" height="13.5" fill="#f4b0b0" stroke="none" stroke-width="1" rx="6"/>
<rect x="1421.5" y="765.0" width="20.0" height="28.0" fill="#f4b0b0" stroke="none" stroke-width="1" rx="6"/>
<rect x="1430.0" y="742.5" width="10.0" height="30.0" fill="#f4b0b0" stroke="none" stroke-width="1" rx="5"/>
<rect x="1449.5" y="605.0" width="12.7" height="198.0" fill="#f4b0b0" stroke="none" stroke-width="1" rx="6"/>
<rect x="1462.0" y="605.0" width="24.0" height="195.0" fill="#f4b0b0" stroke="none" stroke-width="1" rx="6"/>
<rect x="1484.0" y="773.0" width="22.0" height="22.0" fill="#f4b0b0" stroke="none" stroke-width="1" rx="8"/>
<rect x="1463.0" y="790.0" width="10.0" height="40.0" fill="#f4b0b0" stroke="none" stroke-width="1" rx="5"/>
<rect x="1466.0" y="800.0" width="11.0" height="48.0" fill="#f4b0b0" stroke="none" stroke-width="1" rx="5.5"/>
<rect x="1476.0" y="790.0" width="9.5" height="53.0" fill="#f4b0b0" stroke="none" stroke-width="1" rx="4.7"/>
<rect x="1582.3" y="605.0" width="9.7" height="197.0" fill="#f4b0b0" stroke="none" stroke-width="1" rx="4.8"/>
<rect x="1572.5" y="757.0" width="12.0" height="38.0" fill="#f4b0b0" stroke="none" stroke-width="1" rx="5"/>
<rect x="1596.6" y="605.0" width="38.0" height="195.0" fill="#f4b0b0" stroke="none" stroke-width="1" rx="5"/>
<rect x="1596.6" y="780.0" width="27.5" height="69.0" fill="#f4b0b0" stroke="none" stroke-width="1" rx="5"/>
<circle cx="1631.6" cy="840.8" r="3.8" fill="#f4b0b0" stroke="none" stroke-width="1" />
<rect x="1651.6" y="752.0" width="10.0" height="38.0" fill="#f4b0b0" stroke="none" stroke-width="1" rx="5.0"/>
<rect x="1659.0" y="761.0" width="12.0" height="29.0" fill="#f4b0b0" stroke="none" stroke-width="1" rx="6.0"/>
<rect x="1684.5" y="707.0" width="10.0" height="83.0" fill="#f4b0b0" stroke="none" stroke-width="1" rx="5.0"/>
<rect x="1698.0" y="761.0" width="12.0" height="29.0" fill="#f4b0b0" stroke="none" stroke-width="1" rx="6.0"/>
<rect x="1716.0" y="768.0" width="10.0" height="22.0" fill="#f4b0b0" stroke="none" stroke-width="1" rx="5.0"/>
<rect x="1730.9" y="761.0" width="11.0" height="29.0" fill="#f4b0b0" stroke="none" stroke-width="1" rx="5.5"/>
<rect x="1754.6" y="670.0" width="10.0" height="120.0" fill="#f4b0b0" stroke="none" stroke-width="1" rx="5.0"/>
<rect x="1767.0" y="770.0" width="12.0" height="20.0" fill="#f4b0b0" stroke="none" stroke-width="1" rx="6.0"/>
<rect x="1791.0" y="770.0" width="14.0" height="20.0" fill="#f4b0b0" stroke="none" stroke-width="1" rx="7.0"/>
<rect x="1800.0" y="776.0" width="10.0" height="14.0" fill="#f4b0b0" stroke="none" stroke-width="1" rx="5.0"/>
</g>
<line x1="1461.8" y1="603.0" x2="1461.8" y2="859.4" stroke="#a4a9ae" stroke-width="2.4" stroke-dasharray="5 3"/>
<line x1="1594.9" y1="603.0" x2="1594.9" y2="859.4" stroke="#a4a9ae" stroke-width="2.4" stroke-dasharray="5 3"/>
<polyline points="1433.2,770.9 1465.7,633.5 1483.5,706.1 1504.4,787.8 1555.1,787.8 1578.3,763.2 1607.4,629.7 1621.9,631.0 1649.3,773.1 1675.5,778.6 1699.2,768.8 1718.7,781.4 1794.3,781.6" fill="none" stroke="#8c2a2e" stroke-width="2.4" stroke-linejoin="round" stroke-linecap="round" />
<polyline points="1433.2,782.5 1466.1,731.3 1481.6,774.8 1504.4,787.8 1555.1,787.8 1578.3,785.4 1593.8,752.5 1609.3,728.4 1621.9,726.4 1650.5,784.1 1678.4,785.0 1794.3,785.5" fill="none" stroke="#8c2a2e" stroke-width="2.4" stroke-linejoin="round" stroke-linecap="round" stroke-dasharray="6 4"/>
<rect x="1396.2" y="506.8" width="439.3" height="352.6" fill="none" stroke="#2b2626" stroke-width="2" />
<line x1="1426.1" y1="859.4" x2="1426.1" y2="853.4" stroke="#2b2626" stroke-width="1.6" />
<line x1="1542.8" y1="859.4" x2="1542.8" y2="853.4" stroke="#2b2626" stroke-width="1.6" />
<line x1="1659.5" y1="859.4" x2="1659.5" y2="853.4" stroke="#2b2626" stroke-width="1.6" />
<line x1="1776.2" y1="859.4" x2="1776.2" y2="853.4" stroke="#2b2626" stroke-width="1.6" />
<line x1="1484.4" y1="859.4" x2="1484.4" y2="855.9" stroke="#2b2626" stroke-width="1.2" />
<line x1="1601.1" y1="859.4" x2="1601.1" y2="855.9" stroke="#2b2626" stroke-width="1.2" />
<line x1="1717.8" y1="859.4" x2="1717.8" y2="855.9" stroke="#2b2626" stroke-width="1.2" />
<line x1="1396.2" y1="788.4" x2="1390.2" y2="788.4" stroke="#2b2626" stroke-width="1.6" />
<line x1="1396.2" y1="694.5" x2="1390.2" y2="694.5" stroke="#2b2626" stroke-width="1.6" />
<line x1="1396.2" y1="600.6" x2="1390.2" y2="600.6" stroke="#2b2626" stroke-width="1.6" />
<text x="1425.1" y="879.5" font-size="19.5" font-family='"Liberation Sans", sans-serif' fill="#1e1818" stroke="#1e1818" stroke-width="0.16" text-anchor="middle" font-weight="bold" >0</text>
<text x="1541.8" y="879.5" font-size="19.5" font-family='"Liberation Sans", sans-serif' fill="#1e1818" stroke="#1e1818" stroke-width="0.16" text-anchor="middle" font-weight="bold" >10</text>
<text x="1658.5" y="879.5" font-size="19.5" font-family='"Liberation Sans", sans-serif' fill="#1e1818" stroke="#1e1818" stroke-width="0.16" text-anchor="middle" font-weight="bold" >20</text>
<text x="1775.2" y="879.5" font-size="19.5" font-family='"Liberation Sans", sans-serif' fill="#1e1818" stroke="#1e1818" stroke-width="0.16" text-anchor="middle" font-weight="bold" >30</text>
<text x="1383.6" y="795.1" font-size="19.5" font-family='"Liberation Sans", sans-serif' fill="#1e1818" stroke="#1e1818" stroke-width="0.16" text-anchor="end" font-weight="bold" >0.0</text>
<text x="1383.6" y="701.2" font-size="19.5" font-family='"Liberation Sans", sans-serif' fill="#1e1818" stroke="#1e1818" stroke-width="0.16" text-anchor="end" font-weight="bold" >0.1</text>
<text x="1383.6" y="607.3" font-size="19.5" font-family='"Liberation Sans", sans-serif' fill="#1e1818" stroke="#1e1818" stroke-width="0.16" text-anchor="end" font-weight="bold" >0.2</text>
<text x="1383.6" y="513.4" font-size="19.5" font-family='"Liberation Sans", sans-serif' fill="#1e1818" stroke="#1e1818" stroke-width="0.16" text-anchor="end" font-weight="bold" >0.3</text>
<circle cx="1427.5" cy="525.5" r="4.5" fill="#f4b6b8" stroke="none" stroke-width="1" />
<text x="1448.2" y="532.0" font-size="18.5" font-family='"Liberation Sans", sans-serif' fill="#2a2222" stroke="#2a2222" stroke-width="0.16" font-weight="bold" >site energy</text>
<line x1="1407.2" y1="547.8" x2="1448.2" y2="547.8" stroke="#8c2a2e" stroke-width="2.4" stroke-dasharray="6 4"/>
<text x="1454.5" y="554.0" font-size="18.5" font-family='"Liberation Sans", sans-serif' fill="#2a2222" stroke="#2a2222" stroke-width="0.16" font-weight="bold" >mean</text>
<line x1="1407.2" y1="571.5" x2="1448.2" y2="571.5" stroke="#8c2a2e" stroke-width="2.4" />
<text x="1454.5" y="577.5" font-size="18.5" font-family='"Liberation Sans", sans-serif' fill="#2a2222" stroke="#2a2222" stroke-width="0.16" font-weight="bold" >95th</text>
<text x="1549.1" y="599.2" font-size="19.5" font-family='"Liberation Sans", sans-serif' fill="#2a2222" stroke="#2a2222" stroke-width="0.16" font-weight="bold" textLength="118.3" lengthAdjust="spacingAndGlyphs" >Ni90-Li<tspan font-size="14" dy="5">3</tspan><tspan dy="-5">InCl</tspan><tspan font-size="14" dy="5">6</tspan></text>
<text x="1591.9" y="916.7" font-size="30" font-family='"Liberation Sans", sans-serif' fill="#111" stroke="#111" stroke-width="0.35" textLength="44.8" lengthAdjust="spacingAndGlyphs" >z/Å</text>
<text x="1342.5" y="693.7" font-size="29" font-family='"Liberation Sans", sans-serif' fill="#111" stroke="#111" stroke-width="0.35" text-anchor="middle" textLength="339.0" lengthAdjust="spacingAndGlyphs" transform="rotate(-90 1342.5 693.7)" >Relative Li site energy/eV</text>
<text x="1310.0" y="512.5" font-size="37" font-family='"Liberation Sans", sans-serif' fill="#1a1414" stroke="#1a1414" stroke-width="0.35" >(f)</text>
<line x1="219.1" y1="989.6" x2="219.1" y2="1319.6" stroke="#707070" stroke-width="2" stroke-dasharray="5.5 3.5"/>
<line x1="308.7" y1="989.6" x2="308.7" y2="1319.6" stroke="#707070" stroke-width="2" stroke-dasharray="5.5 3.5"/>
<line x1="398.3" y1="1030.4" x2="398.3" y2="1319.6" stroke="#707070" stroke-width="2" stroke-dasharray="5.5 3.5"/>
<line x1="487.9" y1="1030.4" x2="487.9" y2="1319.6" stroke="#707070" stroke-width="2" stroke-dasharray="5.5 3.5"/>
<line x1="577.5" y1="1030.4" x2="577.5" y2="1319.6" stroke="#707070" stroke-width="2" stroke-dasharray="5.5 3.5"/>
<line x1="667.1" y1="1030.4" x2="667.1" y2="1319.6" stroke="#707070" stroke-width="2" stroke-dasharray="5.5 3.5"/>
<polyline points="140.2,1028.7 162.6,1044.0 185.0,1042.1 207.4,1040.2 229.8,1067.1 252.2,1082.5 274.6,1086.3 297.0,1086.3 319.4,1101.7 341.8,1099.8 364.2,1101.7 386.6,1101.7 409.0,1117.1 431.4,1115.1 453.8,1115.1 476.2,1115.1 498.6,1144.0 521.0,1142.1 543.4,1142.1 565.8,1140.1 588.2,1209.3 610.6,1211.2 633.0,1211.2 655.4,1211.2 677.8,1095.9 700.2,1059.4 722.6,1055.6 745.0,1053.6" fill="none" stroke="#d02a3a" stroke-width="2.4" stroke-linejoin="round" stroke-linecap="round" />
<polyline points="140.2,1053.6 162.6,1057.5 185.0,1059.4 207.4,1057.5 229.8,1088.2 252.2,1086.3 274.6,1086.3 297.0,1088.2 319.4,1103.6 341.8,1101.7 364.2,1101.7 386.6,1103.6 409.0,1119.0 431.4,1117.1 453.8,1117.1 476.2,1117.1 498.6,1144.0 521.0,1142.1 543.4,1142.1 565.8,1144.0 588.2,1213.2 610.6,1211.2 633.0,1211.2 655.4,1211.2 677.8,1061.3 700.2,1061.3 722.6,1057.5 745.0,1057.5" fill="none" stroke="#d02a3a" stroke-width="2.6" stroke-linejoin="round" stroke-linecap="round" />
<circle cx="140.2" cy="1028.7" r="5.4" fill="#fff" stroke="#d02a3a" stroke-width="1.6" />
<circle cx="162.6" cy="1044.0" r="5.4" fill="#fff" stroke="#d02a3a" stroke-width="1.6" />
<circle cx="185.0" cy="1042.1" r="5.4" fill="#fff" stroke="#d02a3a" stroke-width="1.6" />
<circle cx="207.4" cy="1040.2" r="5.4" fill="#fff" stroke="#d02a3a" stroke-width="1.6" />
<circle cx="229.8" cy="1067.1" r="5.4" fill="#fff" stroke="#d02a3a" stroke-width="1.6" />
<circle cx="252.2" cy="1082.5" r="5.4" fill="#fff" stroke="#d02a3a" stroke-width="1.6" />
<circle cx="274.6" cy="1086.3" r="5.4" fill="#fff" stroke="#d02a3a" stroke-width="1.6" />
<circle cx="297.0" cy="1086.3" r="5.4" fill="#fff" stroke="#d02a3a" stroke-width="1.6" />
<circle cx="319.4" cy="1101.7" r="5.4" fill="#fff" stroke="#d02a3a" stroke-width="1.6" />
<circle cx="341.8" cy="1099.8" r="5.4" fill="#fff" stroke="#d02a3a" stroke-width="1.6" />
<circle cx="364.2" cy="1101.7" r="5.4" fill="#fff" stroke="#d02a3a" stroke-width="1.6" />
<circle cx="386.6" cy="1101.7" r="5.4" fill="#fff" stroke="#d02a3a" stroke-width="1.6" />
<circle cx="409.0" cy="1117.1" r="5.4" fill="#fff" stroke="#d02a3a" stroke-width="1.6" />
<circle cx="431.4" cy="1115.1" r="5.4" fill="#fff" stroke="#d02a3a" stroke-width="1.6" />
<circle cx="453.8" cy="1115.1" r="5.4" fill="#fff" stroke="#d02a3a" stroke-width="1.6" />
<circle cx="476.2" cy="1115.1" r="5.4" fill="#fff" stroke="#d02a3a" stroke-width="1.6" />
<circle cx="498.6" cy="1144.0" r="5.4" fill="#fff" stroke="#d02a3a" stroke-width="1.6" />
<circle cx="521.0" cy="1142.1" r="5.4" fill="#fff" stroke="#d02a3a" stroke-width="1.6" />
<circle cx="543.4" cy="1142.1" r="5.4" fill="#fff" stroke="#d02a3a" stroke-width="1.6" />
<circle cx="565.8" cy="1140.1" r="5.4" fill="#fff" stroke="#d02a3a" stroke-width="1.6" />
<circle cx="588.2" cy="1209.3" r="5.4" fill="#fff" stroke="#d02a3a" stroke-width="1.6" />
<circle cx="610.6" cy="1211.2" r="5.4" fill="#fff" stroke="#d02a3a" stroke-width="1.6" />
<circle cx="633.0" cy="1211.2" r="5.4" fill="#fff" stroke="#d02a3a" stroke-width="1.6" />
<circle cx="655.4" cy="1211.2" r="5.4" fill="#fff" stroke="#d02a3a" stroke-width="1.6" />
<circle cx="677.8" cy="1095.9" r="5.4" fill="#fff" stroke="#d02a3a" stroke-width="1.6" />
<circle cx="700.2" cy="1059.4" r="5.4" fill="#fff" stroke="#d02a3a" stroke-width="1.6" />
<circle cx="722.6" cy="1055.6" r="5.4" fill="#fff" stroke="#d02a3a" stroke-width="1.6" />
<circle cx="745.0" cy="1053.6" r="5.4" fill="#fff" stroke="#d02a3a" stroke-width="1.6" />
<circle cx="140.2" cy="1053.6" r="5.8" fill="url(#gRedG)" stroke="none" stroke-width="1" />
<circle cx="162.6" cy="1057.5" r="5.8" fill="url(#gRedG)" stroke="none" stroke-width="1" />
<circle cx="185.0" cy="1059.4" r="5.8" fill="url(#gRedG)" stroke="none" stroke-width="1" />
<circle cx="207.4" cy="1057.5" r="5.8" fill="url(#gRedG)" stroke="none" stroke-width="1" />
<circle cx="229.8" cy="1088.2" r="5.8" fill="url(#gRedG)" stroke="none" stroke-width="1" />
<circle cx="252.2" cy="1086.3" r="5.8" fill="url(#gRedG)" stroke="none" stroke-width="1" />
<circle cx="274.6" cy="1086.3" r="5.8" fill="url(#gRedG)" stroke="none" stroke-width="1" />
<circle cx="297.0" cy="1088.2" r="5.8" fill="url(#gRedG)" stroke="none" stroke-width="1" />
<circle cx="319.4" cy="1103.6" r="5.8" fill="url(#gRedG)" stroke="none" stroke-width="1" />
<circle cx="341.8" cy="1101.7" r="5.8" fill="url(#gRedG)" stroke="none" stroke-width="1" />
<circle cx="364.2" cy="1101.7" r="5.8" fill="url(#gRedG)" stroke="none" stroke-width="1" />
<circle cx="386.6" cy="1103.6" r="5.8" fill="url(#gRedG)" stroke="none" stroke-width="1" />
<circle cx="409.0" cy="1119.0" r="5.8" fill="url(#gRedG)" stroke="none" stroke-width="1" />
<circle cx="431.4" cy="1117.1" r="5.8" fill="url(#gRedG)" stroke="none" stroke-width="1" />
<circle cx="453.8" cy="1117.1" r="5.8" fill="url(#gRedG)" stroke="none" stroke-width="1" />
<circle cx="476.2" cy="1117.1" r="5.8" fill="url(#gRedG)" stroke="none" stroke-width="1" />
<circle cx="498.6" cy="1144.0" r="5.8" fill="url(#gRedG)" stroke="none" stroke-width="1" />
<circle cx="521.0" cy="1142.1" r="5.8" fill="url(#gRedG)" stroke="none" stroke-width="1" />
<circle cx="543.4" cy="1142.1" r="5.8" fill="url(#gRedG)" stroke="none" stroke-width="1" />
<circle cx="565.8" cy="1144.0" r="5.8" fill="url(#gRedG)" stroke="none" stroke-width="1" />
<circle cx="588.2" cy="1213.2" r="5.8" fill="url(#gRedG)" stroke="none" stroke-width="1" />
<circle cx="610.6" cy="1211.2" r="5.8" fill="url(#gRedG)" stroke="none" stroke-width="1" />
<circle cx="633.0" cy="1211.2" r="5.8" fill="url(#gRedG)" stroke="none" stroke-width="1" />
<circle cx="655.4" cy="1211.2" r="5.8" fill="url(#gRedG)" stroke="none" stroke-width="1" />
<circle cx="677.8" cy="1061.3" r="5.8" fill="url(#gRedG)" stroke="none" stroke-width="1" />
<circle cx="700.2" cy="1061.3" r="5.8" fill="url(#gRedG)" stroke="none" stroke-width="1" />
<circle cx="722.6" cy="1057.5" r="5.8" fill="url(#gRedG)" stroke="none" stroke-width="1" />
<circle cx="745.0" cy="1057.5" r="5.8" fill="url(#gRedG)" stroke="none" stroke-width="1" />
<rect x="117.8" y="985.6" width="651.0" height="334.0" fill="none" stroke="#2b2626" stroke-width="2" />
<line x1="207.4" y1="1319.6" x2="207.4" y2="1313.6" stroke="#2b2626" stroke-width="1.6" />
<line x1="297.0" y1="1319.6" x2="297.0" y2="1313.6" stroke="#2b2626" stroke-width="1.6" />
<line x1="386.6" y1="1319.6" x2="386.6" y2="1313.6" stroke="#2b2626" stroke-width="1.6" />
<line x1="476.2" y1="1319.6" x2="476.2" y2="1313.6" stroke="#2b2626" stroke-width="1.6" />
<line x1="565.8" y1="1319.6" x2="565.8" y2="1313.6" stroke="#2b2626" stroke-width="1.6" />
<line x1="655.4" y1="1319.6" x2="655.4" y2="1313.6" stroke="#2b2626" stroke-width="1.6" />
<line x1="745.0" y1="1319.6" x2="745.0" y2="1313.6" stroke="#2b2626" stroke-width="1.6" />
<line x1="117.8" y1="1224.7" x2="123.8" y2="1224.7" stroke="#2b2626" stroke-width="1.6" />
<line x1="117.8" y1="1128.6" x2="123.8" y2="1128.6" stroke="#2b2626" stroke-width="1.6" />
<line x1="117.8" y1="1032.5" x2="123.8" y2="1032.5" stroke="#2b2626" stroke-width="1.6" />
<text x="111.8" y="1343.3" font-size="19" font-family='"Liberation Sans", sans-serif' fill="#1e1818" stroke="#1e1818" stroke-width="0.16" text-anchor="middle" font-weight="bold" >0</text>
<text x="201.4" y="1343.3" font-size="19" font-family='"Liberation Sans", sans-serif' fill="#1e1818" stroke="#1e1818" stroke-width="0.16" text-anchor="middle" font-weight="bold" >4</text>
<text x="291.0" y="1343.3" font-size="19" font-family='"Liberation Sans", sans-serif' fill="#1e1818" stroke="#1e1818" stroke-width="0.16" text-anchor="middle" font-weight="bold" >8</text>
<text x="380.6" y="1343.3" font-size="19" font-family='"Liberation Sans", sans-serif' fill="#1e1818" stroke="#1e1818" stroke-width="0.16" text-anchor="middle" font-weight="bold" >12</text>
<text x="470.2" y="1343.3" font-size="19" font-family='"Liberation Sans", sans-serif' fill="#1e1818" stroke="#1e1818" stroke-width="0.16" text-anchor="middle" font-weight="bold" >16</text>
<text x="559.8" y="1343.3" font-size="19" font-family='"Liberation Sans", sans-serif' fill="#1e1818" stroke="#1e1818" stroke-width="0.16" text-anchor="middle" font-weight="bold" >20</text>
<text x="649.4" y="1343.3" font-size="19" font-family='"Liberation Sans", sans-serif' fill="#1e1818" stroke="#1e1818" stroke-width="0.16" text-anchor="middle" font-weight="bold" >24</text>
<text x="739.0" y="1343.3" font-size="19" font-family='"Liberation Sans", sans-serif' fill="#1e1818" stroke="#1e1818" stroke-width="0.16" text-anchor="middle" font-weight="bold" >28</text>
<text x="108.5" y="1231.4" font-size="19" font-family='"Liberation Sans", sans-serif' fill="#1e1818" stroke="#1e1818" stroke-width="0.16" text-anchor="end" font-weight="bold" >50</text>
<text x="108.5" y="1135.3" font-size="19" font-family='"Liberation Sans", sans-serif' fill="#1e1818" stroke="#1e1818" stroke-width="0.16" text-anchor="end" font-weight="bold" >100</text>
<text x="108.5" y="1039.2" font-size="19" font-family='"Liberation Sans", sans-serif' fill="#1e1818" stroke="#1e1818" stroke-width="0.16" text-anchor="end" font-weight="bold" >150</text>
<line x1="349.2" y1="1007.1" x2="384.6" y2="1007.1" stroke="#d02a3a" stroke-width="2.4" />
<circle cx="366.3" cy="1007.1" r="5.4" fill="#fff" stroke="#d02a3a" stroke-width="1.6" />
<text x="385.4" y="1012.5" font-size="17.5" font-family='"Liberation Sans", sans-serif' fill="#2a2222" stroke="#2a2222" stroke-width="0.16" font-weight="bold" textLength="60.3" lengthAdjust="spacingAndGlyphs" >charge</text>
<line x1="445.7" y1="1007.1" x2="484.4" y2="1007.1" stroke="#d02a3a" stroke-width="2.4" />
<circle cx="466.1" cy="1007.1" r="5.8" fill="url(#gRedG)" stroke="none" stroke-width="1" />
<text x="485.7" y="1012.5" font-size="17.5" font-family='"Liberation Sans", sans-serif' fill="#2a2222" stroke="#2a2222" stroke-width="0.16" font-weight="bold" textLength="277.8" lengthAdjust="spacingAndGlyphs" >discharge, LCO/LIC/LPSC/Li-In</text>
<text x="144.3" y="1084.6" font-size="22" font-family='"Liberation Sans", sans-serif' fill="#111" stroke="#111" stroke-width="0.35" textLength="50.9" lengthAdjust="spacingAndGlyphs" >30 <tspan font-weight="normal">°</tspan><tspan font-family='"Liberation Serif", serif' font-weight="normal" dx="-2.6">C</tspan></text>
<text x="243.3" y="1113.0" font-size="22" font-family='"Liberation Sans", sans-serif' fill="#111" stroke="#111" stroke-width="0.35" textLength="38.0" lengthAdjust="spacingAndGlyphs" >0 <tspan font-weight="normal">°</tspan><tspan font-family='"Liberation Serif", serif' font-weight="normal" dx="-2.6">C</tspan></text>
<text x="317.4" y="1131.0" font-size="22" font-family='"Liberation Sans", sans-serif' fill="#111" stroke="#111" stroke-width="0.35" textLength="64.0" lengthAdjust="spacingAndGlyphs" >−10 <tspan font-weight="normal">°</tspan><tspan font-family='"Liberation Serif", serif' font-weight="normal" dx="-2.6">C</tspan></text>
<text x="409.0" y="1145.3" font-size="22" font-family='"Liberation Sans", sans-serif' fill="#111" stroke="#111" stroke-width="0.35" textLength="64.0" lengthAdjust="spacingAndGlyphs" >−20 <tspan font-weight="normal">°</tspan><tspan font-family='"Liberation Serif", serif' font-weight="normal" dx="-2.6">C</tspan></text>
<text x="496.7" y="1170.1" font-size="22" font-family='"Liberation Sans", sans-serif' fill="#111" stroke="#111" stroke-width="0.35" textLength="64.0" lengthAdjust="spacingAndGlyphs" >−30 <tspan font-weight="normal">°</tspan><tspan font-family='"Liberation Serif", serif' font-weight="normal" dx="-2.6">C</tspan></text>
<text x="584.3" y="1239.4" font-size="22" font-family='"Liberation Sans", sans-serif' fill="#111" stroke="#111" stroke-width="0.35" textLength="64.0" lengthAdjust="spacingAndGlyphs" >−40 <tspan font-weight="normal">°</tspan><tspan font-family='"Liberation Serif", serif' font-weight="normal" dx="-2.6">C</tspan></text>
<text x="701.2" y="1084.6" font-size="22" font-family='"Liberation Sans", sans-serif' fill="#111" stroke="#111" stroke-width="0.35" textLength="50.9" lengthAdjust="spacingAndGlyphs" >30 <tspan font-weight="normal">°</tspan><tspan font-family='"Liberation Serif", serif' font-weight="normal" dx="-2.6">C</tspan></text>
<text x="359.2" y="1371.2" font-size="30" font-family='"Liberation Sans", sans-serif' fill="#111" stroke="#111" stroke-width="0.35" textLength="187.4" lengthAdjust="spacingAndGlyphs" >Cycle number</text>
<text x="62.0" y="1173.9" font-size="29.5" font-family='"Liberation Sans", sans-serif' fill="#111" stroke="#111" stroke-width="0.35" text-anchor="middle" textLength="341.8" lengthAdjust="spacingAndGlyphs" transform="rotate(-90 62.0 1173.9)" >Specific capacity/(mAh/g)</text>
<text x="25.4" y="993.5" font-size="37" font-family='"Liberation Sans", sans-serif' fill="#1a1414" stroke="#1a1414" stroke-width="0.35" >(g)</text>
<defs>
<linearGradient id="h1" x1="0" y1="0" x2="0" y2="1"><stop offset="0" stop-color="#f4a6ae"/><stop offset="1" stop-color="#fdf6f6"/></linearGradient>
<linearGradient id="h2" x1="0" y1="0" x2="0" y2="1"><stop offset="0" stop-color="#ea7482"/><stop offset="1" stop-color="#fdf6f6"/></linearGradient>
<linearGradient id="h3" x1="0" y1="0" x2="0" y2="1"><stop offset="0" stop-color="#e2606e"/><stop offset="1" stop-color="#fbf2f2"/></linearGradient>
<linearGradient id="h4" x1="0" y1="0" x2="0" y2="1"><stop offset="0" stop-color="#c8283a"/><stop offset="1" stop-color="#fbf0f0"/></linearGradient>
<linearGradient id="h5" x1="0" y1="0" x2="0" y2="1"><stop offset="0" stop-color="#6e2226"/><stop offset="1" stop-color="#f4f2f2"/></linearGradient>
<linearGradient id="h6" x1="0" y1="0" x2="0" y2="1"><stop offset="0" stop-color="#3e1616"/><stop offset="1" stop-color="#f8f8f8"/></linearGradient>
<linearGradient id="h7" x1="0" y1="0" x2="0" y2="1"><stop offset="0" stop-color="#f4a6ae"/><stop offset="1" stop-color="#fdf6f6"/></linearGradient>
</defs>
<rect x="893.5" y="1016.0" width="44.8" height="303.9" fill="url(#h1)" stroke="#2a2222" stroke-width="1.6" />
<text x="915.9" y="1009.2" font-size="19" font-family='"Liberation Sans", sans-serif' fill="#1e1818" stroke="#1e1818" stroke-width="0.16" text-anchor="middle" font-weight="bold" >100.0</text>
<text x="913.9" y="1347.0" font-size="23" font-family='"Liberation Sans", sans-serif' fill="#111" stroke="#111" stroke-width="0.35" text-anchor="middle" >30</text>
<rect x="948.7" y="1049.4" width="45.1" height="270.5" fill="url(#h2)" stroke="#2a2222" stroke-width="1.6" />
<text x="971.2" y="1036.4" font-size="19" font-family='"Liberation Sans", sans-serif' fill="#1e1818" stroke="#1e1818" stroke-width="0.16" text-anchor="middle" font-weight="bold" >89.0</text>
<text x="969.2" y="1347.0" font-size="23" font-family='"Liberation Sans", sans-serif' fill="#111" stroke="#111" stroke-width="0.35" text-anchor="middle" >0</text>
<rect x="1003.9" y="1066.7" width="45.1" height="253.2" fill="url(#h3)" stroke="#2a2222" stroke-width="1.6" />
<text x="1026.5" y="1053.4" font-size="19" font-family='"Liberation Sans", sans-serif' fill="#1e1818" stroke="#1e1818" stroke-width="0.16" text-anchor="middle" font-weight="bold" >83.3</text>
<text x="1024.5" y="1347.0" font-size="23" font-family='"Liberation Sans", sans-serif' fill="#111" stroke="#111" stroke-width="0.35" text-anchor="middle" >−10</text>
<rect x="1059.1" y="1083.7" width="45.1" height="236.2" fill="url(#h4)" stroke="#2a2222" stroke-width="1.6" />
<text x="1081.7" y="1072.3" font-size="19" font-family='"Liberation Sans", sans-serif' fill="#1e1818" stroke="#1e1818" stroke-width="0.16" text-anchor="middle" font-weight="bold" >77.7</text>
<text x="1079.7" y="1347.0" font-size="23" font-family='"Liberation Sans", sans-serif' fill="#111" stroke="#111" stroke-width="0.35" text-anchor="middle" >−20</text>
<rect x="1114.9" y="1113.4" width="45.1" height="206.5" fill="url(#h5)" stroke="#2a2222" stroke-width="1.6" />
<text x="1137.5" y="1099.4" font-size="19" font-family='"Liberation Sans", sans-serif' fill="#1e1818" stroke="#1e1818" stroke-width="0.16" text-anchor="middle" font-weight="bold" >67.9</text>
<text x="1135.5" y="1347.0" font-size="23" font-family='"Liberation Sans", sans-serif' fill="#111" stroke="#111" stroke-width="0.35" text-anchor="middle" >−30</text>
<rect x="1170.4" y="1193.9" width="45.7" height="126.0" fill="url(#h6)" stroke="#2a2222" stroke-width="1.6" />
<text x="1193.2" y="1182.7" font-size="19" font-family='"Liberation Sans", sans-serif' fill="#1e1818" stroke="#1e1818" stroke-width="0.16" text-anchor="middle" font-weight="bold" >41.4</text>
<text x="1191.2" y="1347.0" font-size="23" font-family='"Liberation Sans", sans-serif' fill="#111" stroke="#111" stroke-width="0.35" text-anchor="middle" >−40</text>
<rect x="1226.2" y="1018.1" width="44.8" height="301.8" fill="url(#h7)" stroke="#2a2222" stroke-width="1.6" />
<text x="1248.6" y="1007.0" font-size="19" font-family='"Liberation Sans", sans-serif' fill="#1e1818" stroke="#1e1818" stroke-width="0.16" text-anchor="middle" font-weight="bold" >99.3</text>
<text x="1246.6" y="1347.0" font-size="23" font-family='"Liberation Sans", sans-serif' fill="#111" stroke="#111" stroke-width="0.35" text-anchor="middle" >30</text>
<rect x="874.0" y="985.6" width="416.9" height="334.3" fill="none" stroke="#2b2626" stroke-width="2" />
<line x1="874.0" y1="1258.8" x2="880.0" y2="1258.8" stroke="#2b2626" stroke-width="1.6" />
<line x1="874.0" y1="1198.1" x2="880.0" y2="1198.1" stroke="#2b2626" stroke-width="1.6" />
<line x1="874.0" y1="1137.4" x2="880.0" y2="1137.4" stroke="#2b2626" stroke-width="1.6" />
<line x1="874.0" y1="1076.7" x2="880.0" y2="1076.7" stroke="#2b2626" stroke-width="1.6" />
<line x1="874.0" y1="1016.0" x2="880.0" y2="1016.0" stroke="#2b2626" stroke-width="1.6" />
<text x="863.6" y="1326.2" font-size="19.5" font-family='"Liberation Sans", sans-serif' fill="#1e1818" stroke="#1e1818" stroke-width="0.16" text-anchor="end" font-weight="bold" >0</text>
<text x="863.6" y="1265.5" font-size="19.5" font-family='"Liberation Sans", sans-serif' fill="#1e1818" stroke="#1e1818" stroke-width="0.16" text-anchor="end" font-weight="bold" >20</text>
<text x="863.6" y="1204.8" font-size="19.5" font-family='"Liberation Sans", sans-serif' fill="#1e1818" stroke="#1e1818" stroke-width="0.16" text-anchor="end" font-weight="bold" >40</text>
<text x="863.6" y="1144.1" font-size="19.5" font-family='"Liberation Sans", sans-serif' fill="#1e1818" stroke="#1e1818" stroke-width="0.16" text-anchor="end" font-weight="bold" >60</text>
<text x="863.6" y="1083.4" font-size="19.5" font-family='"Liberation Sans", sans-serif' fill="#1e1818" stroke="#1e1818" stroke-width="0.16" text-anchor="end" font-weight="bold" >80</text>
<text x="863.6" y="1022.7" font-size="19.5" font-family='"Liberation Sans", sans-serif' fill="#1e1818" stroke="#1e1818" stroke-width="0.16" text-anchor="end" font-weight="bold" >100</text>
<text x="977.8" y="1376.9" font-size="30.5" font-family='"Liberation Sans", sans-serif' fill="#111" stroke="#111" stroke-width="0.35" textLength="208.9" lengthAdjust="spacingAndGlyphs" >Temperature/<tspan font-weight="normal">°</tspan><tspan font-family='"Liberation Serif", serif' font-weight="normal" dx="-3.7">C</tspan></text>
<text x="825.3" y="1155.0" font-size="30" font-family='"Liberation Sans", sans-serif' fill="#111" stroke="#111" stroke-width="0.35" text-anchor="middle" textLength="219.6" lengthAdjust="spacingAndGlyphs" transform="rotate(-90 825.3 1155.0)" >Capacity ratio/%</text>
<text x="792.0" y="993.5" font-size="37" font-family='"Liberation Sans", sans-serif' fill="#1a1414" stroke="#1a1414" stroke-width="0.35" >(h)</text>
<polyline points="1443.5,1110.3 1578.9,1120.4 1624.0,1117.5 1669.2,1115.8 1714.3,1115.2 1759.4,1115.2" fill="none" stroke="#ef8a4c" stroke-width="2.2" stroke-linejoin="round" stroke-linecap="round" />
<circle cx="1443.5" cy="1110.3" r="6.2" fill="#fff" stroke="#ef8a4c" stroke-width="1.6" />
<line x1="1437.3" y1="1110.3" x2="1449.7" y2="1110.3" stroke="#ef8a4c" stroke-width="1.4" />
<line x1="1443.5" y1="1104.1" x2="1443.5" y2="1116.5" stroke="#ef8a4c" stroke-width="1.4" />
<circle cx="1578.9" cy="1120.4" r="6.2" fill="#fff" stroke="#ef8a4c" stroke-width="1.6" />
<line x1="1572.7" y1="1120.4" x2="1585.1" y2="1120.4" stroke="#ef8a4c" stroke-width="1.4" />
<line x1="1578.9" y1="1114.2" x2="1578.9" y2="1126.6" stroke="#ef8a4c" stroke-width="1.4" />
<circle cx="1624.0" cy="1117.5" r="6.2" fill="#fff" stroke="#ef8a4c" stroke-width="1.6" />
<line x1="1617.8" y1="1117.5" x2="1630.2" y2="1117.5" stroke="#ef8a4c" stroke-width="1.4" />
<line x1="1624.0" y1="1111.3" x2="1624.0" y2="1123.7" stroke="#ef8a4c" stroke-width="1.4" />
<circle cx="1669.2" cy="1115.8" r="6.2" fill="#fff" stroke="#ef8a4c" stroke-width="1.6" />
<line x1="1663.0" y1="1115.8" x2="1675.4" y2="1115.8" stroke="#ef8a4c" stroke-width="1.4" />
<line x1="1669.2" y1="1109.6" x2="1669.2" y2="1122.0" stroke="#ef8a4c" stroke-width="1.4" />
<circle cx="1714.3" cy="1115.2" r="6.2" fill="#fff" stroke="#ef8a4c" stroke-width="1.6" />
<line x1="1708.1" y1="1115.2" x2="1720.5" y2="1115.2" stroke="#ef8a4c" stroke-width="1.4" />
<line x1="1714.3" y1="1109.0" x2="1714.3" y2="1121.4" stroke="#ef8a4c" stroke-width="1.4" />
<circle cx="1759.4" cy="1115.2" r="6.2" fill="#fff" stroke="#ef8a4c" stroke-width="1.6" />
<line x1="1753.2" y1="1115.2" x2="1765.6" y2="1115.2" stroke="#ef8a4c" stroke-width="1.4" />
<line x1="1759.4" y1="1109.0" x2="1759.4" y2="1121.4" stroke="#ef8a4c" stroke-width="1.4" />
<polyline points="1443.5,1305.8 1578.9,1294.0 1624.0,1278.8 1669.2,1248.7 1714.3,1183.6 1759.4,1031.2" fill="none" stroke="#35a89c" stroke-width="2.4" stroke-linejoin="round" stroke-linecap="round" />
<polyline points="1443.5,1307.4 1578.9,1297.9 1624.0,1289.0 1669.2,1270.9 1714.3,1229.6 1759.4,1129.6" fill="none" stroke="#2f4fa8" stroke-width="2.4" stroke-linejoin="round" stroke-linecap="round" />
<rect x="1437.0" y="1299.3" width="13.0" height="13.0" fill="#fff" stroke="#35a89c" stroke-width="1.8" />
<rect x="1572.4" y="1287.5" width="13.0" height="13.0" fill="#fff" stroke="#35a89c" stroke-width="1.8" />
<rect x="1617.5" y="1272.3" width="13.0" height="13.0" fill="#fff" stroke="#35a89c" stroke-width="1.8" />
<rect x="1662.7" y="1242.2" width="13.0" height="13.0" fill="#fff" stroke="#35a89c" stroke-width="1.8" />
<rect x="1707.8" y="1177.1" width="13.0" height="13.0" fill="#fff" stroke="#35a89c" stroke-width="1.8" />
<rect x="1752.9" y="1024.7" width="13.0" height="13.0" fill="#fff" stroke="#35a89c" stroke-width="1.8" />
<path d="M1443.5,1298.9 L1452.0,1313.4 L1435.0,1313.4 Z" fill="#fff" stroke="#2f4fa8" stroke-width="1.8" stroke-linejoin="miter"/>
<path d="M1578.9,1289.4 L1587.4,1303.9 L1570.4,1303.9 Z" fill="#fff" stroke="#2f4fa8" stroke-width="1.8" stroke-linejoin="miter"/>
<path d="M1624.0,1280.5 L1632.5,1295.0 L1615.5,1295.0 Z" fill="#fff" stroke="#2f4fa8" stroke-width="1.8" stroke-linejoin="miter"/>
<path d="M1669.2,1262.4 L1677.7,1276.9 L1660.7,1276.9 Z" fill="#fff" stroke="#2f4fa8" stroke-width="1.8" stroke-linejoin="miter"/>
<path d="M1714.3,1221.1 L1722.8,1235.6 L1705.8,1235.6 Z" fill="#fff" stroke="#2f4fa8" stroke-width="1.8" stroke-linejoin="miter"/>
<path d="M1759.4,1121.1 L1767.9,1135.6 L1750.9,1135.6 Z" fill="#fff" stroke="#2f4fa8" stroke-width="1.8" stroke-linejoin="miter"/>
<line x1="1398.6" y1="988.3" x2="1797.9" y2="988.3" stroke="#2b2626" stroke-width="2" />
<line x1="1398.6" y1="1315.3" x2="1797.9" y2="1315.3" stroke="#2b2626" stroke-width="2" />
<line x1="1398.6" y1="988.3" x2="1398.6" y2="1315.3" stroke="#2b2626" stroke-width="2" />
<line x1="1797.9" y1="988.3" x2="1797.9" y2="1315.3" stroke="#ef8a4c" stroke-width="2" />
<line x1="1488.6" y1="1315.3" x2="1488.6" y2="1309.3" stroke="#2b2626" stroke-width="1.6" />
<line x1="1533.8" y1="1315.3" x2="1533.8" y2="1311.3" stroke="#2b2626" stroke-width="1.6" />
<line x1="1578.9" y1="1315.3" x2="1578.9" y2="1309.3" stroke="#2b2626" stroke-width="1.6" />
<line x1="1624.0" y1="1315.3" x2="1624.0" y2="1311.3" stroke="#2b2626" stroke-width="1.6" />
<line x1="1669.2" y1="1315.3" x2="1669.2" y2="1309.3" stroke="#2b2626" stroke-width="1.6" />
<line x1="1714.3" y1="1315.3" x2="1714.3" y2="1311.3" stroke="#2b2626" stroke-width="1.6" />
<line x1="1759.4" y1="1315.3" x2="1759.4" y2="1309.3" stroke="#2b2626" stroke-width="1.6" />
<line x1="1398.6" y1="1233.5" x2="1404.6" y2="1233.5" stroke="#2b2626" stroke-width="1.6" />
<line x1="1398.6" y1="1151.8" x2="1404.6" y2="1151.8" stroke="#2b2626" stroke-width="1.6" />
<line x1="1398.6" y1="1070.0" x2="1404.6" y2="1070.0" stroke="#2b2626" stroke-width="1.6" />
<line x1="1797.9" y1="1249.9" x2="1791.9" y2="1249.9" stroke="#ef8a4c" stroke-width="1.6" />
<line x1="1797.9" y1="1184.5" x2="1791.9" y2="1184.5" stroke="#ef8a4c" stroke-width="1.6" />
<line x1="1797.9" y1="1119.1" x2="1791.9" y2="1119.1" stroke="#ef8a4c" stroke-width="1.6" />
<line x1="1797.9" y1="1053.7" x2="1791.9" y2="1053.7" stroke="#ef8a4c" stroke-width="1.6" />
<text x="1382.0" y="1322.0" font-size="19.5" font-family='"Liberation Sans", sans-serif' fill="#1e1818" stroke="#1e1818" stroke-width="0.16" text-anchor="end" font-weight="bold" >0</text>
<text x="1382.0" y="1240.2" font-size="19.5" font-family='"Liberation Sans", sans-serif' fill="#1e1818" stroke="#1e1818" stroke-width="0.16" text-anchor="end" font-weight="bold" >1000</text>
<text x="1382.0" y="1158.5" font-size="19.5" font-family='"Liberation Sans", sans-serif' fill="#1e1818" stroke="#1e1818" stroke-width="0.16" text-anchor="end" font-weight="bold" >2000</text>
<text x="1382.0" y="1076.8" font-size="19.5" font-family='"Liberation Sans", sans-serif' fill="#1e1818" stroke="#1e1818" stroke-width="0.16" text-anchor="end" font-weight="bold" >3000</text>
<text x="1382.0" y="995.0" font-size="19.5" font-family='"Liberation Sans", sans-serif' fill="#1e1818" stroke="#1e1818" stroke-width="0.16" text-anchor="end" font-weight="bold" >4000</text>
<text x="1810.6" y="1322.0" font-size="19.5" font-family='"Liberation Sans", sans-serif' fill="#ef8a4c" stroke="#ef8a4c" stroke-width="0.16" font-weight="bold" >0</text>
<text x="1810.6" y="1256.6" font-size="19.5" font-family='"Liberation Sans", sans-serif' fill="#ef8a4c" stroke="#ef8a4c" stroke-width="0.16" font-weight="bold" >20</text>
<text x="1810.6" y="1191.2" font-size="19.5" font-family='"Liberation Sans", sans-serif' fill="#ef8a4c" stroke="#ef8a4c" stroke-width="0.16" font-weight="bold" >40</text>
<text x="1810.6" y="1125.8" font-size="19.5" font-family='"Liberation Sans", sans-serif' fill="#ef8a4c" stroke="#ef8a4c" stroke-width="0.16" font-weight="bold" >60</text>
<text x="1810.6" y="1060.4" font-size="19.5" font-family='"Liberation Sans", sans-serif' fill="#ef8a4c" stroke="#ef8a4c" stroke-width="0.16" font-weight="bold" >80</text>
<text x="1810.6" y="995.0" font-size="19.5" font-family='"Liberation Sans", sans-serif' fill="#ef8a4c" stroke="#ef8a4c" stroke-width="0.16" font-weight="bold" >100</text>
<text x="1406.4" y="1347.0" font-size="23" font-family='"Liberation Sans", sans-serif' fill="#111" stroke="#111" stroke-width="0.35" text-anchor="middle" >40</text>
<text x="1488.6" y="1347.0" font-size="23" font-family='"Liberation Sans", sans-serif' fill="#111" stroke="#111" stroke-width="0.35" text-anchor="middle" >20</text>
<text x="1578.9" y="1347.0" font-size="23" font-family='"Liberation Sans", sans-serif' fill="#111" stroke="#111" stroke-width="0.35" text-anchor="middle" >0</text>
<text x="1666.7" y="1347.0" font-size="23" font-family='"Liberation Sans", sans-serif' fill="#111" stroke="#111" stroke-width="0.35" text-anchor="middle" >−20</text>
<text x="1756.9" y="1347.0" font-size="23" font-family='"Liberation Sans", sans-serif' fill="#111" stroke="#111" stroke-width="0.35" text-anchor="middle" >−40</text>
<line x1="1422.7" y1="1204.2" x2="1464.6" y2="1204.2" stroke="#35a89c" stroke-width="2.4" />
<rect x="1437.5" y="1197.7" width="13.0" height="13.0" fill="#fff" stroke="#35a89c" stroke-width="1.8" />
<text x="1474.1" y="1210.6" font-size="26.5" font-family='"Liberation Sans", sans-serif' fill="#111" stroke="#111" stroke-width="0.35" ><tspan font-style="italic">R</tspan><tspan font-size="17" dy="5">ohm</tspan></text>
<line x1="1422.7" y1="1231.2" x2="1464.6" y2="1231.2" stroke="#2f4fa8" stroke-width="2.4" />
<path d="M1444,1222.7 L1452.5,1237.2 L1435.5,1237.2 Z" fill="#fff" stroke="#2f4fa8" stroke-width="1.8"/>
<text x="1474.1" y="1248.6" font-size="26.5" font-family='"Liberation Sans", sans-serif' fill="#111" stroke="#111" stroke-width="0.35" ><tspan font-style="italic">R</tspan><tspan font-size="17" dy="5">cc</tspan></text>
<text x="1331.5" y="1155.0" font-size="29" font-family='"Liberation Sans", sans-serif' fill="#111" stroke="#111" stroke-width="0.35" text-anchor="middle" transform="rotate(-90 1331.5 1155.0)" ><tspan font-style="italic">R</tspan>/Ω</text>
<text x="1871.5" y="1170.9" font-size="29" font-family='"Liberation Sans", sans-serif' fill="#ef8a4c" stroke="#ef8a4c" stroke-width="0.35" text-anchor="middle" textLength="162.0" lengthAdjust="spacingAndGlyphs" transform="rotate(-90 1871.5 1170.9)" ><tspan font-style="italic">R</tspan><tspan font-size="19" dy="5">ohm</tspan><tspan dy="-5">/</tspan><tspan font-style="italic">R</tspan><tspan font-size="19" dy="5">total</tspan><tspan dy="-5">/%</tspan></text>
<text x="1594.5" y="1374.8" font-size="30" font-family='"Liberation Sans", sans-serif' fill="#111" stroke="#111" stroke-width="0.35" textLength="50.5" lengthAdjust="spacingAndGlyphs" ><tspan font-style="italic">T</tspan>/<tspan>°</tspan><tspan font-family='"Liberation Serif", serif' dx="-3">C</tspan></text>
<text x="1300.0" y="993.5" font-size="37" font-family='"Liberation Sans", sans-serif' fill="#1a1414" stroke="#1a1414" stroke-width="0.35" >(i)</text>
</svg></body></html>
